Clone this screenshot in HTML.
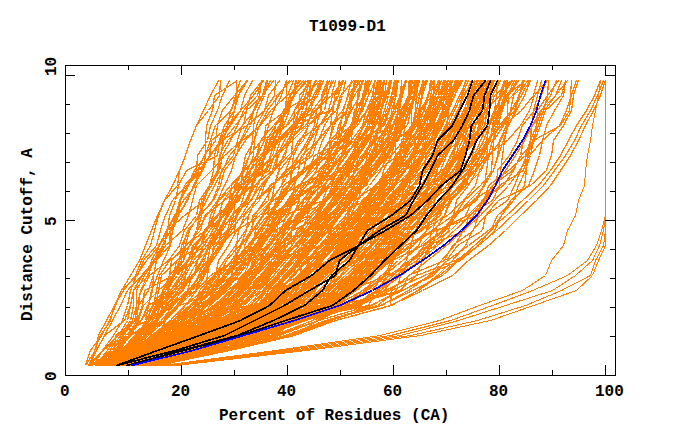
<!DOCTYPE html>
<html><head><meta charset="utf-8"><style>
html,body{margin:0;padding:0;background:#fff;width:680px;height:440px;overflow:hidden}
svg{position:absolute;left:0;top:0}
.t{position:absolute;font:bold 16px "Liberation Mono",monospace;color:#000;white-space:pre;line-height:16px}
</style></head><body>
<svg width="680" height="440" viewBox="0 0 680 440">
<g fill="none" shape-rendering="crispEdges" stroke-width="1">
<g stroke="#ff8000" stroke-width="1.25">
<polyline points="85.5,365.5 95.5,350.5 98.5,335.5 106.5,320.5 114.5,305.5 123.5,290.5 135.5,275.5 141.5,260.5 150.5,245.5 154.5,230.5 158.5,215.5 164.5,200.5 177.5,185.5 179.5,170.5 185.5,155.5 190.5,140.5 196.5,125.5 208.5,110.5 219.5,95.5 220.5,80.5"/>
<polyline points="88.5,365.5 96.5,350.5 104.5,335.5 112.5,320.5 120.5,305.5 127.5,290.5 141.5,275.5 156.5,260.5 169.5,245.5 170.5,230.5 177.5,215.5 180.5,200.5 188.5,185.5 196.5,170.5 197.5,155.5 207.5,140.5 210.5,125.5 217.5,110.5 222.5,95.5 229.5,80.5"/>
<polyline points="85.5,365.5 90.5,350.5 101.5,335.5 109.5,320.5 115.5,305.5 121.5,290.5 130.5,275.5 139.5,260.5 145.5,245.5 151.5,230.5 157.5,215.5 164.5,200.5 172.5,185.5 179.5,170.5 185.5,155.5 190.5,140.5 196.5,125.5 203.5,110.5 210.5,95.5 218.5,80.5"/>
<polyline points="88.5,365.5 127.5,350.5 138.5,335.5 145.5,320.5 148.5,305.5 151.5,290.5 157.5,275.5 163.5,260.5 170.5,245.5 172.5,230.5 178.5,215.5 187.5,200.5 193.5,185.5 201.5,170.5 209.5,155.5 211.5,140.5 230.5,125.5 234.5,110.5 236.5,95.5 236.5,80.5"/>
<polyline points="88.5,365.5 102.5,350.5 118.5,335.5 127.5,320.5 130.5,305.5 133.5,290.5 141.5,275.5 155.5,260.5 158.5,245.5 171.5,230.5 178.5,215.5 180.5,200.5 187.5,185.5 194.5,170.5 205.5,155.5 205.5,140.5 206.5,125.5 212.5,110.5 214.5,95.5 237.5,80.5"/>
<polyline points="89.5,365.5 96.5,350.5 104.5,335.5 124.5,320.5 130.5,305.5 133.5,290.5 142.5,275.5 153.5,260.5 162.5,245.5 170.5,230.5 176.5,215.5 180.5,200.5 184.5,185.5 197.5,170.5 204.5,155.5 215.5,140.5 217.5,125.5 222.5,110.5 234.5,95.5 247.5,80.5"/>
<polyline points="91.5,365.5 114.5,350.5 128.5,335.5 136.5,320.5 138.5,305.5 140.5,290.5 147.5,275.5 154.5,260.5 164.5,245.5 167.5,230.5 169.5,215.5 175.5,200.5 178.5,185.5 186.5,170.5 217.5,155.5 219.5,140.5 224.5,125.5 234.5,110.5 238.5,95.5 247.5,80.5"/>
<polyline points="90.5,365.5 94.5,350.5 100.5,335.5 110.5,320.5 114.5,305.5 121.5,290.5 137.5,275.5 143.5,260.5 156.5,245.5 160.5,230.5 165.5,215.5 172.5,200.5 186.5,185.5 202.5,170.5 205.5,155.5 210.5,140.5 215.5,125.5 231.5,110.5 235.5,95.5 240.5,80.5"/>
<polyline points="90.5,365.5 102.5,350.5 126.5,335.5 141.5,320.5 148.5,305.5 152.5,290.5 153.5,275.5 156.5,260.5 158.5,245.5 167.5,230.5 175.5,215.5 179.5,200.5 187.5,185.5 199.5,170.5 210.5,155.5 220.5,140.5 230.5,125.5 240.5,110.5 244.5,95.5 252.5,80.5"/>
<polyline points="89.5,365.5 114.5,350.5 115.5,335.5 135.5,320.5 136.5,305.5 141.5,290.5 149.5,275.5 168.5,260.5 179.5,245.5 184.5,230.5 196.5,215.5 199.5,200.5 209.5,185.5 213.5,170.5 214.5,155.5 219.5,140.5 227.5,125.5 230.5,110.5 238.5,95.5 246.5,80.5"/>
<polyline points="93.5,365.5 102.5,350.5 113.5,335.5 122.5,320.5 127.5,305.5 130.5,290.5 136.5,275.5 146.5,260.5 159.5,245.5 167.5,230.5 184.5,215.5 204.5,200.5 209.5,185.5 218.5,170.5 220.5,155.5 223.5,140.5 235.5,125.5 246.5,110.5 250.5,95.5 262.5,80.5"/>
<polyline points="95.5,365.5 107.5,350.5 116.5,335.5 147.5,320.5 158.5,305.5 162.5,290.5 173.5,275.5 183.5,260.5 189.5,245.5 196.5,230.5 199.5,215.5 201.5,200.5 211.5,185.5 219.5,170.5 222.5,155.5 230.5,140.5 237.5,125.5 243.5,110.5 257.5,95.5 261.5,80.5"/>
<polyline points="95.5,365.5 115.5,350.5 131.5,335.5 138.5,320.5 143.5,305.5 158.5,290.5 161.5,275.5 177.5,260.5 189.5,245.5 197.5,230.5 201.5,215.5 203.5,200.5 209.5,185.5 217.5,170.5 219.5,155.5 227.5,140.5 243.5,125.5 246.5,110.5 262.5,95.5 266.5,80.5"/>
<polyline points="96.5,365.5 123.5,350.5 141.5,335.5 156.5,320.5 159.5,305.5 163.5,290.5 172.5,275.5 181.5,260.5 183.5,245.5 187.5,230.5 200.5,215.5 212.5,200.5 218.5,185.5 221.5,170.5 233.5,155.5 237.5,140.5 242.5,125.5 254.5,110.5 262.5,95.5 270.5,80.5"/>
<polyline points="96.5,365.5 109.5,350.5 120.5,335.5 130.5,320.5 133.5,305.5 133.5,290.5 148.5,275.5 151.5,260.5 159.5,245.5 166.5,230.5 174.5,215.5 183.5,200.5 195.5,185.5 198.5,170.5 210.5,155.5 221.5,140.5 247.5,125.5 253.5,110.5 259.5,95.5 261.5,80.5"/>
<polyline points="95.5,365.5 110.5,350.5 128.5,335.5 157.5,320.5 165.5,305.5 168.5,290.5 173.5,275.5 197.5,260.5 203.5,245.5 204.5,230.5 218.5,215.5 223.5,200.5 234.5,185.5 242.5,170.5 249.5,155.5 252.5,140.5 253.5,125.5 257.5,110.5 264.5,95.5 267.5,80.5"/>
<polyline points="95.5,365.5 111.5,350.5 122.5,335.5 132.5,320.5 136.5,305.5 136.5,290.5 144.5,275.5 154.5,260.5 162.5,245.5 170.5,230.5 178.5,215.5 186.5,200.5 194.5,185.5 202.5,170.5 209.5,155.5 223.5,140.5 227.5,125.5 240.5,110.5 253.5,95.5 263.5,80.5"/>
<polyline points="96.5,365.5 112.5,350.5 123.5,335.5 134.5,320.5 138.5,305.5 148.5,290.5 153.5,275.5 156.5,260.5 165.5,245.5 182.5,230.5 188.5,215.5 192.5,200.5 196.5,185.5 211.5,170.5 224.5,155.5 241.5,140.5 250.5,125.5 253.5,110.5 262.5,95.5 273.5,80.5"/>
<polyline points="97.5,365.5 113.5,350.5 131.5,335.5 150.5,320.5 156.5,305.5 170.5,290.5 183.5,275.5 191.5,260.5 193.5,245.5 206.5,230.5 213.5,215.5 218.5,200.5 235.5,185.5 257.5,170.5 264.5,155.5 273.5,140.5 280.5,125.5 285.5,110.5 286.5,95.5 286.5,80.5"/>
<polyline points="97.5,365.5 114.5,350.5 126.5,335.5 137.5,320.5 142.5,305.5 144.5,290.5 173.5,275.5 176.5,260.5 200.5,245.5 205.5,230.5 224.5,215.5 234.5,200.5 247.5,185.5 250.5,170.5 256.5,155.5 264.5,140.5 268.5,125.5 273.5,110.5 281.5,95.5 286.5,80.5"/>
<polyline points="99.5,365.5 127.5,350.5 143.5,335.5 146.5,320.5 160.5,305.5 165.5,290.5 173.5,275.5 179.5,260.5 181.5,245.5 188.5,230.5 199.5,215.5 213.5,200.5 220.5,185.5 224.5,170.5 236.5,155.5 240.5,140.5 247.5,125.5 264.5,110.5 268.5,95.5 279.5,80.5"/>
<polyline points="98.5,365.5 128.5,350.5 143.5,335.5 149.5,320.5 155.5,305.5 158.5,290.5 174.5,275.5 179.5,260.5 185.5,245.5 205.5,230.5 216.5,215.5 239.5,200.5 243.5,185.5 247.5,170.5 253.5,155.5 254.5,140.5 256.5,125.5 264.5,110.5 274.5,95.5 275.5,80.5"/>
<polyline points="99.5,365.5 116.5,350.5 128.5,335.5 140.5,320.5 153.5,305.5 156.5,290.5 159.5,275.5 169.5,260.5 190.5,245.5 197.5,230.5 206.5,215.5 217.5,200.5 224.5,185.5 231.5,170.5 235.5,155.5 245.5,140.5 259.5,125.5 274.5,110.5 276.5,95.5 291.5,80.5"/>
<polyline points="99.5,365.5 119.5,350.5 129.5,335.5 141.5,320.5 147.5,305.5 178.5,290.5 194.5,275.5 197.5,260.5 212.5,245.5 220.5,230.5 226.5,215.5 229.5,200.5 231.5,185.5 245.5,170.5 256.5,155.5 260.5,140.5 273.5,125.5 287.5,110.5 293.5,95.5 296.5,80.5"/>
<polyline points="99.5,365.5 123.5,350.5 136.5,335.5 153.5,320.5 156.5,305.5 172.5,290.5 192.5,275.5 210.5,260.5 214.5,245.5 217.5,230.5 235.5,215.5 248.5,200.5 253.5,185.5 255.5,170.5 262.5,155.5 266.5,140.5 275.5,125.5 288.5,110.5 293.5,95.5 295.5,80.5"/>
<polyline points="99.5,365.5 118.5,350.5 130.5,335.5 156.5,320.5 159.5,305.5 168.5,290.5 169.5,275.5 171.5,260.5 185.5,245.5 189.5,230.5 198.5,215.5 206.5,200.5 214.5,185.5 222.5,170.5 229.5,155.5 242.5,140.5 260.5,125.5 270.5,110.5 287.5,95.5 293.5,80.5"/>
<polyline points="99.5,365.5 129.5,350.5 137.5,335.5 164.5,320.5 176.5,305.5 190.5,290.5 198.5,275.5 204.5,260.5 208.5,245.5 227.5,230.5 231.5,215.5 245.5,200.5 252.5,185.5 259.5,170.5 265.5,155.5 274.5,140.5 281.5,125.5 285.5,110.5 289.5,95.5 300.5,80.5"/>
<polyline points="99.5,365.5 119.5,350.5 139.5,335.5 164.5,320.5 178.5,305.5 195.5,290.5 201.5,275.5 211.5,260.5 218.5,245.5 221.5,230.5 227.5,215.5 236.5,200.5 247.5,185.5 254.5,170.5 266.5,155.5 269.5,140.5 279.5,125.5 285.5,110.5 294.5,95.5 298.5,80.5"/>
<polyline points="99.5,365.5 130.5,350.5 140.5,335.5 146.5,320.5 152.5,305.5 163.5,290.5 169.5,275.5 183.5,260.5 185.5,245.5 200.5,230.5 204.5,215.5 224.5,200.5 241.5,185.5 242.5,170.5 245.5,155.5 254.5,140.5 259.5,125.5 267.5,110.5 278.5,95.5 289.5,80.5"/>
<polyline points="100.5,365.5 120.5,350.5 137.5,335.5 146.5,320.5 153.5,305.5 168.5,290.5 174.5,275.5 188.5,260.5 192.5,245.5 207.5,230.5 210.5,215.5 218.5,200.5 230.5,185.5 244.5,170.5 249.5,155.5 261.5,140.5 287.5,125.5 298.5,110.5 299.5,95.5 311.5,80.5"/>
<polyline points="101.5,365.5 131.5,350.5 143.5,335.5 157.5,320.5 164.5,305.5 167.5,290.5 173.5,275.5 187.5,260.5 195.5,245.5 204.5,230.5 216.5,215.5 234.5,200.5 241.5,185.5 250.5,170.5 262.5,155.5 277.5,140.5 283.5,125.5 289.5,110.5 290.5,95.5 303.5,80.5"/>
<polyline points="101.5,365.5 121.5,350.5 134.5,335.5 148.5,320.5 155.5,305.5 165.5,290.5 177.5,275.5 188.5,260.5 200.5,245.5 216.5,230.5 222.5,215.5 232.5,200.5 240.5,185.5 259.5,170.5 265.5,155.5 278.5,140.5 293.5,125.5 294.5,110.5 302.5,95.5 308.5,80.5"/>
<polyline points="101.5,365.5 121.5,350.5 134.5,335.5 148.5,320.5 156.5,305.5 183.5,290.5 185.5,275.5 186.5,260.5 204.5,245.5 212.5,230.5 222.5,215.5 231.5,200.5 243.5,185.5 258.5,170.5 272.5,155.5 277.5,140.5 291.5,125.5 310.5,110.5 315.5,95.5 321.5,80.5"/>
<polyline points="101.5,365.5 122.5,350.5 135.5,335.5 149.5,320.5 172.5,305.5 190.5,290.5 204.5,275.5 211.5,260.5 213.5,245.5 229.5,230.5 233.5,215.5 235.5,200.5 251.5,185.5 255.5,170.5 257.5,155.5 264.5,140.5 265.5,125.5 286.5,110.5 294.5,95.5 305.5,80.5"/>
<polyline points="101.5,365.5 122.5,350.5 136.5,335.5 150.5,320.5 158.5,305.5 170.5,290.5 180.5,275.5 187.5,260.5 196.5,245.5 206.5,230.5 218.5,215.5 231.5,200.5 235.5,185.5 243.5,170.5 260.5,155.5 272.5,140.5 275.5,125.5 283.5,110.5 293.5,95.5 307.5,80.5"/>
<polyline points="101.5,365.5 132.5,350.5 152.5,335.5 170.5,320.5 184.5,305.5 203.5,290.5 215.5,275.5 218.5,260.5 228.5,245.5 236.5,230.5 248.5,215.5 255.5,200.5 274.5,185.5 278.5,170.5 283.5,155.5 290.5,140.5 292.5,125.5 305.5,110.5 310.5,95.5 315.5,80.5"/>
<polyline points="101.5,365.5 123.5,350.5 137.5,335.5 152.5,320.5 161.5,305.5 173.5,290.5 182.5,275.5 191.5,260.5 200.5,245.5 209.5,230.5 222.5,215.5 236.5,200.5 245.5,185.5 264.5,170.5 275.5,155.5 280.5,140.5 297.5,125.5 302.5,110.5 305.5,95.5 309.5,80.5"/>
<polyline points="102.5,365.5 124.5,350.5 138.5,335.5 154.5,320.5 167.5,305.5 196.5,290.5 204.5,275.5 207.5,260.5 210.5,245.5 215.5,230.5 222.5,215.5 229.5,200.5 237.5,185.5 249.5,170.5 263.5,155.5 267.5,140.5 282.5,125.5 284.5,110.5 309.5,95.5 310.5,80.5"/>
<polyline points="101.5,365.5 124.5,350.5 145.5,335.5 158.5,320.5 162.5,305.5 175.5,290.5 185.5,275.5 193.5,260.5 207.5,245.5 215.5,230.5 220.5,215.5 229.5,200.5 238.5,185.5 269.5,170.5 274.5,155.5 289.5,140.5 302.5,125.5 308.5,110.5 313.5,95.5 320.5,80.5"/>
<polyline points="101.5,365.5 126.5,350.5 139.5,335.5 154.5,320.5 170.5,305.5 177.5,290.5 191.5,275.5 208.5,260.5 220.5,245.5 234.5,230.5 236.5,215.5 242.5,200.5 247.5,185.5 262.5,170.5 264.5,155.5 270.5,140.5 286.5,125.5 294.5,110.5 308.5,95.5 315.5,80.5"/>
<polyline points="103.5,365.5 124.5,350.5 139.5,335.5 155.5,320.5 165.5,305.5 178.5,290.5 189.5,275.5 197.5,260.5 206.5,245.5 228.5,230.5 243.5,215.5 255.5,200.5 262.5,185.5 274.5,170.5 288.5,155.5 303.5,140.5 308.5,125.5 321.5,110.5 321.5,95.5 327.5,80.5"/>
<polyline points="103.5,365.5 125.5,350.5 140.5,335.5 156.5,320.5 166.5,305.5 180.5,290.5 194.5,275.5 202.5,260.5 208.5,245.5 218.5,230.5 226.5,215.5 235.5,200.5 252.5,185.5 257.5,170.5 276.5,155.5 284.5,140.5 293.5,125.5 299.5,110.5 305.5,95.5 319.5,80.5"/>
<polyline points="103.5,365.5 133.5,350.5 157.5,335.5 165.5,320.5 170.5,305.5 182.5,290.5 192.5,275.5 201.5,260.5 210.5,245.5 219.5,230.5 228.5,215.5 237.5,200.5 246.5,185.5 261.5,170.5 264.5,155.5 280.5,140.5 292.5,125.5 315.5,110.5 331.5,95.5 335.5,80.5"/>
<polyline points="104.5,365.5 126.5,350.5 141.5,335.5 157.5,320.5 170.5,305.5 187.5,290.5 192.5,275.5 201.5,260.5 210.5,245.5 222.5,230.5 231.5,215.5 251.5,200.5 257.5,185.5 265.5,170.5 270.5,155.5 275.5,140.5 301.5,125.5 306.5,110.5 307.5,95.5 316.5,80.5"/>
<polyline points="104.5,365.5 136.5,350.5 158.5,335.5 178.5,320.5 195.5,305.5 213.5,290.5 226.5,275.5 237.5,260.5 248.5,245.5 258.5,230.5 269.5,215.5 279.5,200.5 289.5,185.5 291.5,170.5 293.5,155.5 300.5,140.5 308.5,125.5 324.5,110.5 327.5,95.5 331.5,80.5"/>
<polyline points="104.5,365.5 137.5,350.5 158.5,335.5 178.5,320.5 190.5,305.5 203.5,290.5 207.5,275.5 209.5,260.5 215.5,245.5 236.5,230.5 260.5,215.5 271.5,200.5 274.5,185.5 279.5,170.5 291.5,155.5 292.5,140.5 296.5,125.5 298.5,110.5 315.5,95.5 323.5,80.5"/>
<polyline points="104.5,365.5 137.5,350.5 153.5,335.5 173.5,320.5 185.5,305.5 196.5,290.5 210.5,275.5 234.5,260.5 236.5,245.5 238.5,230.5 244.5,215.5 259.5,200.5 264.5,185.5 272.5,170.5 285.5,155.5 287.5,140.5 305.5,125.5 315.5,110.5 326.5,95.5 327.5,80.5"/>
<polyline points="103.5,365.5 133.5,350.5 145.5,335.5 161.5,320.5 173.5,305.5 188.5,290.5 199.5,275.5 209.5,260.5 221.5,245.5 229.5,230.5 236.5,215.5 245.5,200.5 254.5,185.5 272.5,170.5 277.5,155.5 292.5,140.5 307.5,125.5 312.5,110.5 323.5,95.5 329.5,80.5"/>
<polyline points="104.5,365.5 132.5,350.5 144.5,335.5 161.5,320.5 177.5,305.5 189.5,290.5 200.5,275.5 209.5,260.5 219.5,245.5 228.5,230.5 237.5,215.5 246.5,200.5 255.5,185.5 266.5,170.5 274.5,155.5 290.5,140.5 294.5,125.5 330.5,110.5 338.5,95.5 343.5,80.5"/>
<polyline points="105.5,365.5 128.5,350.5 161.5,335.5 173.5,320.5 198.5,305.5 208.5,290.5 215.5,275.5 234.5,260.5 240.5,245.5 246.5,230.5 248.5,215.5 255.5,200.5 271.5,185.5 288.5,170.5 298.5,155.5 307.5,140.5 314.5,125.5 316.5,110.5 326.5,95.5 333.5,80.5"/>
<polyline points="105.5,365.5 129.5,350.5 146.5,335.5 163.5,320.5 176.5,305.5 192.5,290.5 203.5,275.5 212.5,260.5 222.5,245.5 231.5,230.5 241.5,215.5 250.5,200.5 260.5,185.5 274.5,170.5 278.5,155.5 287.5,140.5 296.5,125.5 306.5,110.5 317.5,95.5 323.5,80.5"/>
<polyline points="105.5,365.5 139.5,350.5 162.5,335.5 183.5,320.5 201.5,305.5 220.5,290.5 233.5,275.5 245.5,260.5 256.5,245.5 267.5,230.5 277.5,215.5 288.5,200.5 299.5,185.5 309.5,170.5 319.5,155.5 329.5,140.5 334.5,125.5 337.5,110.5 342.5,95.5 345.5,80.5"/>
<polyline points="105.5,365.5 129.5,350.5 152.5,335.5 184.5,320.5 195.5,305.5 211.5,290.5 232.5,275.5 246.5,260.5 255.5,245.5 266.5,230.5 270.5,215.5 277.5,200.5 283.5,185.5 303.5,170.5 306.5,155.5 318.5,140.5 324.5,125.5 333.5,110.5 334.5,95.5 342.5,80.5"/>
<polyline points="105.5,365.5 130.5,350.5 148.5,335.5 165.5,320.5 179.5,305.5 220.5,290.5 222.5,275.5 243.5,260.5 244.5,245.5 252.5,230.5 252.5,215.5 268.5,200.5 269.5,185.5 293.5,170.5 298.5,155.5 310.5,140.5 319.5,125.5 330.5,110.5 338.5,95.5 338.5,80.5"/>
<polyline points="104.5,365.5 140.5,350.5 163.5,335.5 182.5,320.5 194.5,305.5 205.5,290.5 224.5,275.5 240.5,260.5 252.5,245.5 255.5,230.5 267.5,215.5 270.5,200.5 281.5,185.5 285.5,170.5 291.5,155.5 298.5,140.5 319.5,125.5 328.5,110.5 332.5,95.5 342.5,80.5"/>
<polyline points="106.5,365.5 141.5,350.5 150.5,335.5 183.5,320.5 206.5,305.5 224.5,290.5 238.5,275.5 250.5,260.5 261.5,245.5 272.5,230.5 283.5,215.5 294.5,200.5 306.5,185.5 316.5,170.5 317.5,155.5 322.5,140.5 330.5,125.5 332.5,110.5 336.5,95.5 339.5,80.5"/>
<polyline points="105.5,365.5 141.5,350.5 165.5,335.5 187.5,320.5 206.5,305.5 225.5,290.5 238.5,275.5 250.5,260.5 262.5,245.5 273.5,230.5 283.5,215.5 295.5,200.5 306.5,185.5 316.5,170.5 321.5,155.5 329.5,140.5 332.5,125.5 346.5,110.5 352.5,95.5 354.5,80.5"/>
<polyline points="106.5,365.5 131.5,350.5 154.5,335.5 178.5,320.5 195.5,305.5 199.5,290.5 213.5,275.5 234.5,260.5 241.5,245.5 250.5,230.5 256.5,215.5 271.5,200.5 281.5,185.5 290.5,170.5 303.5,155.5 309.5,140.5 316.5,125.5 320.5,110.5 322.5,95.5 329.5,80.5"/>
<polyline points="106.5,365.5 141.5,350.5 166.5,335.5 188.5,320.5 196.5,305.5 226.5,290.5 231.5,275.5 234.5,260.5 247.5,245.5 266.5,230.5 270.5,215.5 291.5,200.5 294.5,185.5 298.5,170.5 301.5,155.5 318.5,140.5 330.5,125.5 347.5,110.5 351.5,95.5 356.5,80.5"/>
<polyline points="106.5,365.5 132.5,350.5 151.5,335.5 170.5,320.5 185.5,305.5 202.5,290.5 214.5,275.5 224.5,260.5 235.5,245.5 245.5,230.5 254.5,215.5 264.5,200.5 273.5,185.5 285.5,170.5 309.5,155.5 314.5,140.5 319.5,125.5 336.5,110.5 340.5,95.5 353.5,80.5"/>
<polyline points="108.5,365.5 133.5,350.5 152.5,335.5 190.5,320.5 195.5,305.5 210.5,290.5 219.5,275.5 226.5,260.5 239.5,245.5 253.5,230.5 263.5,215.5 281.5,200.5 289.5,185.5 292.5,170.5 312.5,155.5 317.5,140.5 330.5,125.5 342.5,110.5 348.5,95.5 357.5,80.5"/>
<polyline points="108.5,365.5 133.5,350.5 153.5,335.5 172.5,320.5 189.5,305.5 205.5,290.5 217.5,275.5 242.5,260.5 255.5,245.5 262.5,230.5 273.5,215.5 275.5,200.5 287.5,185.5 301.5,170.5 322.5,155.5 337.5,140.5 344.5,125.5 346.5,110.5 350.5,95.5 360.5,80.5"/>
<polyline points="108.5,365.5 143.5,350.5 169.5,335.5 192.5,320.5 213.5,305.5 231.5,290.5 244.5,275.5 257.5,260.5 268.5,245.5 280.5,230.5 291.5,215.5 303.5,200.5 314.5,185.5 325.5,170.5 335.5,155.5 346.5,140.5 354.5,125.5 360.5,110.5 365.5,95.5 368.5,80.5"/>
<polyline points="108.5,365.5 144.5,350.5 169.5,335.5 192.5,320.5 214.5,305.5 232.5,290.5 246.5,275.5 258.5,260.5 270.5,245.5 280.5,230.5 286.5,215.5 294.5,200.5 306.5,185.5 325.5,170.5 329.5,155.5 337.5,140.5 340.5,125.5 343.5,110.5 347.5,95.5 351.5,80.5"/>
<polyline points="108.5,365.5 134.5,350.5 154.5,335.5 174.5,320.5 190.5,305.5 207.5,290.5 220.5,275.5 231.5,260.5 241.5,245.5 252.5,230.5 262.5,215.5 272.5,200.5 298.5,185.5 313.5,170.5 326.5,155.5 340.5,140.5 350.5,125.5 358.5,110.5 363.5,95.5 365.5,80.5"/>
<polyline points="108.5,365.5 144.5,350.5 160.5,335.5 187.5,320.5 214.5,305.5 230.5,290.5 243.5,275.5 250.5,260.5 269.5,245.5 282.5,230.5 291.5,215.5 306.5,200.5 317.5,185.5 323.5,170.5 328.5,155.5 330.5,140.5 345.5,125.5 350.5,110.5 352.5,95.5 358.5,80.5"/>
<polyline points="108.5,365.5 135.5,350.5 156.5,335.5 176.5,320.5 192.5,305.5 210.5,290.5 223.5,275.5 234.5,260.5 256.5,245.5 271.5,230.5 273.5,215.5 277.5,200.5 287.5,185.5 305.5,170.5 330.5,155.5 347.5,140.5 351.5,125.5 362.5,110.5 368.5,95.5 368.5,80.5"/>
<polyline points="109.5,365.5 145.5,350.5 171.5,335.5 195.5,320.5 210.5,305.5 213.5,290.5 223.5,275.5 249.5,260.5 257.5,245.5 262.5,230.5 273.5,215.5 293.5,200.5 317.5,185.5 328.5,170.5 328.5,155.5 335.5,140.5 338.5,125.5 346.5,110.5 354.5,95.5 363.5,80.5"/>
<polyline points="109.5,365.5 136.5,350.5 157.5,335.5 179.5,320.5 194.5,305.5 213.5,290.5 225.5,275.5 236.5,260.5 247.5,245.5 260.5,230.5 268.5,215.5 278.5,200.5 288.5,185.5 306.5,170.5 319.5,155.5 330.5,140.5 343.5,125.5 349.5,110.5 352.5,95.5 355.5,80.5"/>
<polyline points="108.5,365.5 136.5,350.5 166.5,335.5 197.5,320.5 203.5,305.5 223.5,290.5 233.5,275.5 245.5,260.5 261.5,245.5 271.5,230.5 288.5,215.5 293.5,200.5 314.5,185.5 319.5,170.5 332.5,155.5 351.5,140.5 362.5,125.5 366.5,110.5 372.5,95.5 374.5,80.5"/>
<polyline points="109.5,365.5 136.5,350.5 158.5,335.5 179.5,320.5 196.5,305.5 214.5,290.5 227.5,275.5 239.5,260.5 250.5,245.5 260.5,230.5 270.5,215.5 281.5,200.5 292.5,185.5 302.5,170.5 326.5,155.5 332.5,140.5 351.5,125.5 354.5,110.5 365.5,95.5 371.5,80.5"/>
<polyline points="110.5,365.5 137.5,350.5 174.5,335.5 198.5,320.5 204.5,305.5 214.5,290.5 244.5,275.5 255.5,260.5 266.5,245.5 275.5,230.5 300.5,215.5 309.5,200.5 312.5,185.5 330.5,170.5 342.5,155.5 351.5,140.5 352.5,125.5 361.5,110.5 364.5,95.5 365.5,80.5"/>
<polyline points="109.5,365.5 147.5,350.5 175.5,335.5 199.5,320.5 222.5,305.5 240.5,290.5 253.5,275.5 264.5,260.5 278.5,245.5 285.5,230.5 292.5,215.5 299.5,200.5 300.5,185.5 308.5,170.5 314.5,155.5 344.5,140.5 352.5,125.5 361.5,110.5 362.5,95.5 367.5,80.5"/>
<polyline points="110.5,365.5 144.5,350.5 160.5,335.5 200.5,320.5 224.5,305.5 231.5,290.5 246.5,275.5 267.5,260.5 279.5,245.5 291.5,230.5 297.5,215.5 313.5,200.5 324.5,185.5 335.5,170.5 342.5,155.5 347.5,140.5 353.5,125.5 356.5,110.5 357.5,95.5 362.5,80.5"/>
<polyline points="111.5,365.5 138.5,350.5 161.5,335.5 182.5,320.5 207.5,305.5 218.5,290.5 232.5,275.5 243.5,260.5 268.5,245.5 277.5,230.5 278.5,215.5 295.5,200.5 312.5,185.5 325.5,170.5 343.5,155.5 348.5,140.5 354.5,125.5 356.5,110.5 358.5,95.5 363.5,80.5"/>
<polyline points="110.5,365.5 148.5,350.5 164.5,335.5 182.5,320.5 200.5,305.5 219.5,290.5 232.5,275.5 243.5,260.5 254.5,245.5 265.5,230.5 276.5,215.5 287.5,200.5 297.5,185.5 331.5,170.5 334.5,155.5 341.5,140.5 357.5,125.5 366.5,110.5 375.5,95.5 378.5,80.5"/>
<polyline points="110.5,365.5 139.5,350.5 162.5,335.5 183.5,320.5 202.5,305.5 220.5,290.5 233.5,275.5 245.5,260.5 258.5,245.5 267.5,230.5 283.5,215.5 291.5,200.5 299.5,185.5 310.5,170.5 322.5,155.5 339.5,140.5 344.5,125.5 351.5,110.5 359.5,95.5 359.5,80.5"/>
<polyline points="111.5,365.5 139.5,350.5 167.5,335.5 184.5,320.5 202.5,305.5 221.5,290.5 234.5,275.5 246.5,260.5 257.5,245.5 268.5,230.5 278.5,215.5 289.5,200.5 313.5,185.5 321.5,170.5 334.5,155.5 339.5,140.5 354.5,125.5 367.5,110.5 380.5,95.5 383.5,80.5"/>
<polyline points="110.5,365.5 145.5,350.5 163.5,335.5 204.5,320.5 220.5,305.5 234.5,290.5 247.5,275.5 254.5,260.5 262.5,245.5 272.5,230.5 280.5,215.5 298.5,200.5 302.5,185.5 318.5,170.5 331.5,155.5 342.5,140.5 352.5,125.5 355.5,110.5 363.5,95.5 367.5,80.5"/>
<polyline points="111.5,365.5 140.5,350.5 164.5,335.5 191.5,320.5 205.5,305.5 223.5,290.5 236.5,275.5 248.5,260.5 259.5,245.5 270.5,230.5 281.5,215.5 292.5,200.5 303.5,185.5 344.5,170.5 353.5,155.5 358.5,140.5 369.5,125.5 373.5,110.5 382.5,95.5 384.5,80.5"/>
<polyline points="112.5,365.5 150.5,350.5 179.5,335.5 205.5,320.5 229.5,305.5 240.5,290.5 248.5,275.5 252.5,260.5 260.5,245.5 273.5,230.5 309.5,215.5 322.5,200.5 328.5,185.5 337.5,170.5 341.5,155.5 344.5,140.5 352.5,125.5 358.5,110.5 363.5,95.5 369.5,80.5"/>
<polyline points="111.5,365.5 141.5,350.5 165.5,335.5 187.5,320.5 207.5,305.5 225.5,290.5 238.5,275.5 250.5,260.5 262.5,245.5 272.5,230.5 283.5,215.5 323.5,200.5 335.5,185.5 346.5,170.5 357.5,155.5 366.5,140.5 374.5,125.5 380.5,110.5 384.5,95.5 386.5,80.5"/>
<polyline points="112.5,365.5 141.5,350.5 180.5,335.5 200.5,320.5 209.5,305.5 227.5,290.5 246.5,275.5 257.5,260.5 283.5,245.5 291.5,230.5 298.5,215.5 316.5,200.5 318.5,185.5 330.5,170.5 341.5,155.5 360.5,140.5 367.5,125.5 377.5,110.5 380.5,95.5 383.5,80.5"/>
<polyline points="112.5,365.5 151.5,350.5 181.5,335.5 207.5,320.5 232.5,305.5 249.5,290.5 262.5,275.5 275.5,260.5 279.5,245.5 284.5,230.5 312.5,215.5 325.5,200.5 332.5,185.5 342.5,170.5 355.5,155.5 364.5,140.5 369.5,125.5 372.5,110.5 373.5,95.5 374.5,80.5"/>
<polyline points="111.5,365.5 152.5,350.5 181.5,335.5 208.5,320.5 223.5,305.5 232.5,290.5 241.5,275.5 263.5,260.5 276.5,245.5 283.5,230.5 297.5,215.5 314.5,200.5 331.5,185.5 337.5,170.5 357.5,155.5 362.5,140.5 367.5,125.5 380.5,110.5 387.5,95.5 390.5,80.5"/>
<polyline points="112.5,365.5 142.5,350.5 183.5,335.5 209.5,320.5 231.5,305.5 244.5,290.5 256.5,275.5 260.5,260.5 268.5,245.5 283.5,230.5 299.5,215.5 303.5,200.5 322.5,185.5 340.5,170.5 352.5,155.5 365.5,140.5 367.5,125.5 371.5,110.5 379.5,95.5 381.5,80.5"/>
<polyline points="113.5,365.5 143.5,350.5 168.5,335.5 210.5,320.5 235.5,305.5 252.5,290.5 265.5,275.5 278.5,260.5 291.5,245.5 303.5,230.5 315.5,215.5 324.5,200.5 340.5,185.5 351.5,170.5 362.5,155.5 372.5,140.5 379.5,125.5 384.5,110.5 388.5,95.5 391.5,80.5"/>
<polyline points="113.5,365.5 143.5,350.5 169.5,335.5 192.5,320.5 213.5,305.5 231.5,290.5 244.5,275.5 268.5,260.5 275.5,245.5 279.5,230.5 291.5,215.5 302.5,200.5 314.5,185.5 325.5,170.5 335.5,155.5 345.5,140.5 355.5,125.5 361.5,110.5 368.5,95.5 375.5,80.5"/>
<polyline points="113.5,365.5 143.5,350.5 169.5,335.5 192.5,320.5 216.5,305.5 232.5,290.5 245.5,275.5 257.5,260.5 287.5,245.5 291.5,230.5 301.5,215.5 327.5,200.5 341.5,185.5 349.5,170.5 351.5,155.5 357.5,140.5 371.5,125.5 374.5,110.5 382.5,95.5 383.5,80.5"/>
<polyline points="113.5,365.5 154.5,350.5 185.5,335.5 212.5,320.5 217.5,305.5 248.5,290.5 260.5,275.5 277.5,260.5 287.5,245.5 306.5,230.5 316.5,215.5 326.5,200.5 337.5,185.5 346.5,170.5 352.5,155.5 363.5,140.5 382.5,125.5 388.5,110.5 392.5,95.5 395.5,80.5"/>
<polyline points="114.5,365.5 146.5,350.5 185.5,335.5 212.5,320.5 239.5,305.5 248.5,290.5 268.5,275.5 281.5,260.5 291.5,245.5 291.5,230.5 295.5,215.5 315.5,200.5 325.5,185.5 329.5,170.5 338.5,155.5 354.5,140.5 364.5,125.5 370.5,110.5 375.5,95.5 379.5,80.5"/>
<polyline points="114.5,365.5 144.5,350.5 186.5,335.5 213.5,320.5 239.5,305.5 255.5,290.5 269.5,275.5 282.5,260.5 294.5,245.5 307.5,230.5 320.5,215.5 332.5,200.5 344.5,185.5 355.5,170.5 366.5,155.5 370.5,140.5 374.5,125.5 374.5,110.5 375.5,95.5 381.5,80.5"/>
<polyline points="114.5,365.5 145.5,350.5 172.5,335.5 196.5,320.5 218.5,305.5 235.5,290.5 249.5,275.5 261.5,260.5 273.5,245.5 285.5,230.5 297.5,215.5 308.5,200.5 320.5,185.5 331.5,170.5 342.5,155.5 359.5,140.5 384.5,125.5 389.5,110.5 394.5,95.5 398.5,80.5"/>
<polyline points="114.5,365.5 155.5,350.5 182.5,335.5 196.5,320.5 241.5,305.5 257.5,290.5 270.5,275.5 279.5,260.5 296.5,245.5 309.5,230.5 322.5,215.5 334.5,200.5 346.5,185.5 350.5,170.5 357.5,155.5 365.5,140.5 375.5,125.5 389.5,110.5 391.5,95.5 394.5,80.5"/>
<polyline points="115.5,365.5 146.5,350.5 173.5,335.5 211.5,320.5 223.5,305.5 237.5,290.5 251.5,275.5 263.5,260.5 298.5,245.5 311.5,230.5 322.5,215.5 331.5,200.5 339.5,185.5 347.5,170.5 356.5,155.5 358.5,140.5 372.5,125.5 378.5,110.5 381.5,95.5 384.5,80.5"/>
<polyline points="116.5,365.5 146.5,350.5 174.5,335.5 198.5,320.5 221.5,305.5 238.5,290.5 252.5,275.5 266.5,260.5 276.5,245.5 288.5,230.5 300.5,215.5 316.5,200.5 323.5,185.5 335.5,170.5 345.5,155.5 357.5,140.5 363.5,125.5 376.5,110.5 378.5,95.5 381.5,80.5"/>
<polyline points="115.5,365.5 156.5,350.5 185.5,335.5 198.5,320.5 232.5,305.5 240.5,290.5 263.5,275.5 277.5,260.5 278.5,245.5 302.5,230.5 307.5,215.5 312.5,200.5 324.5,185.5 335.5,170.5 346.5,155.5 355.5,140.5 363.5,125.5 369.5,110.5 374.5,95.5 377.5,80.5"/>
<polyline points="116.5,365.5 147.5,350.5 183.5,335.5 203.5,320.5 224.5,305.5 244.5,290.5 269.5,275.5 277.5,260.5 282.5,245.5 313.5,230.5 325.5,215.5 338.5,200.5 350.5,185.5 354.5,170.5 361.5,155.5 376.5,140.5 378.5,125.5 381.5,110.5 383.5,95.5 383.5,80.5"/>
<polyline points="115.5,365.5 148.5,350.5 176.5,335.5 200.5,320.5 224.5,305.5 241.5,290.5 254.5,275.5 267.5,260.5 279.5,245.5 291.5,230.5 303.5,215.5 315.5,200.5 327.5,185.5 354.5,170.5 358.5,155.5 368.5,140.5 372.5,125.5 377.5,110.5 386.5,95.5 390.5,80.5"/>
<polyline points="115.5,365.5 148.5,350.5 176.5,335.5 201.5,320.5 224.5,305.5 241.5,290.5 255.5,275.5 271.5,260.5 280.5,245.5 292.5,230.5 321.5,215.5 335.5,200.5 345.5,185.5 355.5,170.5 364.5,155.5 372.5,140.5 380.5,125.5 397.5,110.5 402.5,95.5 405.5,80.5"/>
<polyline points="116.5,365.5 148.5,350.5 176.5,335.5 211.5,320.5 225.5,305.5 242.5,290.5 255.5,275.5 267.5,260.5 280.5,245.5 292.5,230.5 304.5,215.5 316.5,200.5 328.5,185.5 339.5,170.5 350.5,155.5 359.5,140.5 367.5,125.5 373.5,110.5 377.5,95.5 380.5,80.5"/>
<polyline points="117.5,365.5 149.5,350.5 180.5,335.5 220.5,320.5 249.5,305.5 264.5,290.5 277.5,275.5 291.5,260.5 304.5,245.5 317.5,230.5 329.5,215.5 342.5,200.5 354.5,185.5 365.5,170.5 375.5,155.5 385.5,140.5 392.5,125.5 398.5,110.5 399.5,95.5 405.5,80.5"/>
<polyline points="115.5,365.5 159.5,350.5 192.5,335.5 212.5,320.5 226.5,305.5 243.5,290.5 260.5,275.5 272.5,260.5 283.5,245.5 305.5,230.5 330.5,215.5 342.5,200.5 354.5,185.5 362.5,170.5 374.5,155.5 380.5,140.5 393.5,125.5 399.5,110.5 401.5,95.5 401.5,80.5"/>
<polyline points="115.5,365.5 149.5,350.5 193.5,335.5 221.5,320.5 250.5,305.5 265.5,290.5 279.5,275.5 292.5,260.5 305.5,245.5 318.5,230.5 331.5,215.5 343.5,200.5 355.5,185.5 366.5,170.5 377.5,155.5 386.5,140.5 390.5,125.5 391.5,110.5 396.5,95.5 397.5,80.5"/>
<polyline points="117.5,365.5 150.5,350.5 179.5,335.5 204.5,320.5 244.5,305.5 255.5,290.5 274.5,275.5 278.5,260.5 292.5,245.5 296.5,230.5 318.5,215.5 326.5,200.5 334.5,185.5 344.5,170.5 354.5,155.5 365.5,140.5 392.5,125.5 398.5,110.5 401.5,95.5 406.5,80.5"/>
<polyline points="117.5,365.5 160.5,350.5 195.5,335.5 218.5,320.5 253.5,305.5 267.5,290.5 281.5,275.5 294.5,260.5 308.5,245.5 321.5,230.5 333.5,215.5 345.5,200.5 357.5,185.5 368.5,170.5 369.5,155.5 378.5,140.5 386.5,125.5 393.5,110.5 395.5,95.5 397.5,80.5"/>
<polyline points="117.5,365.5 151.5,350.5 180.5,335.5 206.5,320.5 235.5,305.5 247.5,290.5 267.5,275.5 277.5,260.5 309.5,245.5 321.5,230.5 334.5,215.5 346.5,200.5 358.5,185.5 369.5,170.5 380.5,155.5 389.5,140.5 397.5,125.5 403.5,110.5 408.5,95.5 412.5,80.5"/>
<polyline points="118.5,365.5 155.5,350.5 195.5,335.5 217.5,320.5 232.5,305.5 248.5,290.5 261.5,275.5 274.5,260.5 287.5,245.5 299.5,230.5 312.5,215.5 324.5,200.5 336.5,185.5 347.5,170.5 357.5,155.5 367.5,140.5 375.5,125.5 380.5,110.5 385.5,95.5 390.5,80.5"/>
<polyline points="118.5,365.5 151.5,350.5 188.5,335.5 207.5,320.5 232.5,305.5 248.5,290.5 262.5,275.5 275.5,260.5 287.5,245.5 300.5,230.5 312.5,215.5 324.5,200.5 336.5,185.5 348.5,170.5 358.5,155.5 368.5,140.5 375.5,125.5 381.5,110.5 386.5,95.5 389.5,80.5"/>
<polyline points="118.5,365.5 162.5,350.5 197.5,335.5 226.5,320.5 256.5,305.5 271.5,290.5 284.5,275.5 298.5,260.5 310.5,245.5 321.5,230.5 328.5,215.5 349.5,200.5 361.5,185.5 372.5,170.5 380.5,155.5 392.5,140.5 400.5,125.5 406.5,110.5 408.5,95.5 409.5,80.5"/>
<polyline points="118.5,365.5 152.5,350.5 182.5,335.5 208.5,320.5 234.5,305.5 250.5,290.5 264.5,275.5 278.5,260.5 312.5,245.5 322.5,230.5 337.5,215.5 349.5,200.5 361.5,185.5 368.5,170.5 372.5,155.5 375.5,140.5 391.5,125.5 406.5,110.5 410.5,95.5 415.5,80.5"/>
<polyline points="118.5,365.5 153.5,350.5 190.5,335.5 228.5,320.5 258.5,305.5 272.5,290.5 286.5,275.5 300.5,260.5 313.5,245.5 317.5,230.5 335.5,215.5 341.5,200.5 360.5,185.5 365.5,170.5 376.5,155.5 382.5,140.5 388.5,125.5 393.5,110.5 400.5,95.5 401.5,80.5"/>
<polyline points="118.5,365.5 163.5,350.5 199.5,335.5 224.5,320.5 236.5,305.5 263.5,290.5 281.5,275.5 290.5,260.5 314.5,245.5 327.5,230.5 339.5,215.5 351.5,200.5 363.5,185.5 366.5,170.5 372.5,155.5 378.5,140.5 388.5,125.5 393.5,110.5 395.5,95.5 397.5,80.5"/>
<polyline points="120.5,365.5 157.5,350.5 199.5,335.5 229.5,320.5 260.5,305.5 268.5,290.5 287.5,275.5 296.5,260.5 310.5,245.5 320.5,230.5 326.5,215.5 330.5,200.5 346.5,185.5 355.5,170.5 363.5,155.5 373.5,140.5 380.5,125.5 386.5,110.5 391.5,95.5 398.5,80.5"/>
<polyline points="119.5,365.5 158.5,350.5 200.5,335.5 230.5,320.5 261.5,305.5 273.5,290.5 289.5,275.5 302.5,260.5 311.5,245.5 315.5,230.5 324.5,215.5 331.5,200.5 343.5,185.5 356.5,170.5 377.5,155.5 383.5,140.5 400.5,125.5 401.5,110.5 408.5,95.5 408.5,80.5"/>
<polyline points="120.5,365.5 163.5,350.5 189.5,335.5 212.5,320.5 239.5,305.5 254.5,290.5 268.5,275.5 281.5,260.5 294.5,245.5 307.5,230.5 319.5,215.5 331.5,200.5 352.5,185.5 363.5,170.5 367.5,155.5 374.5,140.5 382.5,125.5 389.5,110.5 393.5,95.5 396.5,80.5"/>
<polyline points="119.5,365.5 164.5,350.5 186.5,335.5 213.5,320.5 240.5,305.5 255.5,290.5 269.5,275.5 282.5,260.5 295.5,245.5 308.5,230.5 320.5,215.5 341.5,200.5 349.5,185.5 366.5,170.5 387.5,155.5 393.5,140.5 403.5,125.5 410.5,110.5 414.5,95.5 416.5,80.5"/>
<polyline points="120.5,365.5 155.5,350.5 187.5,335.5 214.5,320.5 254.5,305.5 264.5,290.5 270.5,275.5 283.5,260.5 306.5,245.5 320.5,230.5 326.5,215.5 352.5,200.5 357.5,185.5 370.5,170.5 388.5,155.5 396.5,140.5 397.5,125.5 400.5,110.5 409.5,95.5 411.5,80.5"/>
<polyline points="119.5,365.5 155.5,350.5 202.5,335.5 233.5,320.5 258.5,305.5 265.5,290.5 278.5,275.5 289.5,260.5 302.5,245.5 331.5,230.5 335.5,215.5 346.5,200.5 364.5,185.5 370.5,170.5 388.5,155.5 391.5,140.5 398.5,125.5 405.5,110.5 409.5,95.5 412.5,80.5"/>
<polyline points="119.5,365.5 155.5,350.5 188.5,335.5 215.5,320.5 265.5,305.5 278.5,290.5 292.5,275.5 306.5,260.5 319.5,245.5 332.5,230.5 345.5,215.5 357.5,200.5 369.5,185.5 380.5,170.5 388.5,155.5 392.5,140.5 395.5,125.5 398.5,110.5 402.5,95.5 406.5,80.5"/>
<polyline points="121.5,365.5 166.5,350.5 189.5,335.5 216.5,320.5 251.5,305.5 259.5,290.5 273.5,275.5 286.5,260.5 299.5,245.5 312.5,230.5 324.5,215.5 336.5,200.5 348.5,185.5 359.5,170.5 376.5,155.5 385.5,140.5 407.5,125.5 410.5,110.5 415.5,95.5 417.5,80.5"/>
<polyline points="120.5,365.5 156.5,350.5 189.5,335.5 217.5,320.5 244.5,305.5 259.5,290.5 273.5,275.5 286.5,260.5 299.5,245.5 312.5,230.5 325.5,215.5 337.5,200.5 349.5,185.5 360.5,170.5 370.5,155.5 398.5,140.5 403.5,125.5 403.5,110.5 418.5,95.5 426.5,80.5"/>
<polyline points="120.5,365.5 167.5,350.5 205.5,335.5 235.5,320.5 268.5,305.5 281.5,290.5 291.5,275.5 309.5,260.5 320.5,245.5 336.5,230.5 348.5,215.5 354.5,200.5 361.5,185.5 364.5,170.5 371.5,155.5 381.5,140.5 389.5,125.5 395.5,110.5 400.5,95.5 405.5,80.5"/>
<polyline points="122.5,365.5 163.5,350.5 205.5,335.5 228.5,320.5 264.5,305.5 276.5,290.5 293.5,275.5 297.5,260.5 301.5,245.5 314.5,230.5 330.5,215.5 342.5,200.5 353.5,185.5 361.5,170.5 376.5,155.5 387.5,140.5 393.5,125.5 406.5,110.5 418.5,95.5 423.5,80.5"/>
<polyline points="120.5,365.5 158.5,350.5 191.5,335.5 219.5,320.5 247.5,305.5 262.5,290.5 276.5,275.5 289.5,260.5 319.5,245.5 332.5,230.5 350.5,215.5 358.5,200.5 361.5,185.5 364.5,170.5 376.5,155.5 392.5,140.5 401.5,125.5 405.5,110.5 408.5,95.5 410.5,80.5"/>
<polyline points="122.5,365.5 158.5,350.5 192.5,335.5 220.5,320.5 267.5,305.5 284.5,290.5 298.5,275.5 312.5,260.5 325.5,245.5 329.5,230.5 340.5,215.5 348.5,200.5 353.5,185.5 371.5,170.5 384.5,155.5 388.5,140.5 392.5,125.5 405.5,110.5 411.5,95.5 414.5,80.5"/>
<polyline points="122.5,365.5 159.5,350.5 207.5,335.5 238.5,320.5 271.5,305.5 285.5,290.5 299.5,275.5 313.5,260.5 326.5,245.5 339.5,230.5 352.5,215.5 364.5,200.5 376.5,185.5 387.5,170.5 397.5,155.5 403.5,140.5 412.5,125.5 415.5,110.5 416.5,95.5 418.5,80.5"/>
<polyline points="122.5,365.5 159.5,350.5 192.5,335.5 221.5,320.5 249.5,305.5 264.5,290.5 278.5,275.5 291.5,260.5 304.5,245.5 317.5,230.5 330.5,215.5 342.5,200.5 366.5,185.5 372.5,170.5 391.5,155.5 395.5,140.5 396.5,125.5 401.5,110.5 413.5,95.5 415.5,80.5"/>
<polyline points="122.5,365.5 159.5,350.5 208.5,335.5 240.5,320.5 273.5,305.5 286.5,290.5 301.5,275.5 315.5,260.5 328.5,245.5 341.5,230.5 354.5,215.5 366.5,200.5 378.5,185.5 389.5,170.5 399.5,155.5 403.5,140.5 404.5,125.5 409.5,110.5 413.5,95.5 416.5,80.5"/>
<polyline points="123.5,365.5 170.5,350.5 209.5,335.5 240.5,320.5 274.5,305.5 287.5,290.5 301.5,275.5 316.5,260.5 329.5,245.5 342.5,230.5 354.5,215.5 367.5,200.5 379.5,185.5 383.5,170.5 391.5,155.5 403.5,140.5 412.5,125.5 419.5,110.5 421.5,95.5 422.5,80.5"/>
<polyline points="122.5,365.5 160.5,350.5 195.5,335.5 223.5,320.5 260.5,305.5 276.5,290.5 294.5,275.5 304.5,260.5 323.5,245.5 337.5,230.5 355.5,215.5 362.5,200.5 380.5,185.5 390.5,170.5 401.5,155.5 406.5,140.5 416.5,125.5 418.5,110.5 422.5,95.5 423.5,80.5"/>
<polyline points="123.5,365.5 170.5,350.5 210.5,335.5 242.5,320.5 275.5,305.5 289.5,290.5 303.5,275.5 317.5,260.5 331.5,245.5 344.5,230.5 356.5,215.5 369.5,200.5 376.5,185.5 391.5,170.5 395.5,155.5 395.5,140.5 414.5,125.5 421.5,110.5 428.5,95.5 430.5,80.5"/>
<polyline points="123.5,365.5 169.5,350.5 211.5,335.5 242.5,320.5 270.5,305.5 277.5,290.5 286.5,275.5 300.5,260.5 332.5,245.5 345.5,230.5 357.5,215.5 370.5,200.5 382.5,185.5 392.5,170.5 399.5,155.5 401.5,140.5 411.5,125.5 411.5,110.5 414.5,95.5 417.5,80.5"/>
<polyline points="124.5,365.5 161.5,350.5 196.5,335.5 225.5,320.5 255.5,305.5 277.5,290.5 283.5,275.5 308.5,260.5 320.5,245.5 344.5,230.5 347.5,215.5 350.5,200.5 359.5,185.5 373.5,170.5 387.5,155.5 392.5,140.5 398.5,125.5 404.5,110.5 410.5,95.5 414.5,80.5"/>
<polyline points="123.5,365.5 162.5,350.5 197.5,335.5 229.5,320.5 264.5,305.5 276.5,290.5 284.5,275.5 298.5,260.5 311.5,245.5 324.5,230.5 337.5,215.5 349.5,200.5 361.5,185.5 372.5,170.5 382.5,155.5 392.5,140.5 417.5,125.5 419.5,110.5 422.5,95.5 427.5,80.5"/>
<polyline points="124.5,365.5 172.5,350.5 211.5,335.5 232.5,320.5 257.5,305.5 271.5,290.5 300.5,275.5 301.5,260.5 312.5,245.5 325.5,230.5 337.5,215.5 364.5,200.5 374.5,185.5 395.5,170.5 397.5,155.5 405.5,140.5 413.5,125.5 416.5,110.5 419.5,95.5 425.5,80.5"/>
<polyline points="124.5,365.5 172.5,350.5 213.5,335.5 245.5,320.5 273.5,305.5 279.5,290.5 285.5,275.5 299.5,260.5 312.5,245.5 325.5,230.5 338.5,215.5 350.5,200.5 363.5,185.5 378.5,170.5 397.5,155.5 410.5,140.5 419.5,125.5 423.5,110.5 427.5,95.5 433.5,80.5"/>
<polyline points="124.5,365.5 165.5,350.5 199.5,335.5 228.5,320.5 259.5,305.5 273.5,290.5 287.5,275.5 301.5,260.5 314.5,245.5 327.5,230.5 339.5,215.5 351.5,200.5 363.5,185.5 376.5,170.5 385.5,155.5 394.5,140.5 402.5,125.5 408.5,110.5 414.5,95.5 418.5,80.5"/>
<polyline points="124.5,365.5 169.5,350.5 204.5,335.5 229.5,320.5 260.5,305.5 274.5,290.5 288.5,275.5 302.5,260.5 315.5,245.5 328.5,230.5 340.5,215.5 352.5,200.5 364.5,185.5 375.5,170.5 386.5,155.5 396.5,140.5 403.5,125.5 409.5,110.5 415.5,95.5 419.5,80.5"/>
<polyline points="125.5,365.5 164.5,350.5 200.5,335.5 230.5,320.5 261.5,305.5 283.5,290.5 302.5,275.5 318.5,260.5 338.5,245.5 349.5,230.5 360.5,215.5 365.5,200.5 376.5,185.5 390.5,170.5 395.5,155.5 407.5,140.5 422.5,125.5 432.5,110.5 438.5,95.5 444.5,80.5"/>
<polyline points="125.5,365.5 174.5,350.5 215.5,335.5 248.5,320.5 266.5,305.5 281.5,290.5 308.5,275.5 318.5,260.5 325.5,245.5 342.5,230.5 345.5,215.5 354.5,200.5 375.5,185.5 387.5,170.5 403.5,155.5 409.5,140.5 414.5,125.5 420.5,110.5 432.5,95.5 438.5,80.5"/>
<polyline points="126.5,365.5 174.5,350.5 216.5,335.5 245.5,320.5 277.5,305.5 293.5,290.5 312.5,275.5 322.5,260.5 326.5,245.5 332.5,230.5 357.5,215.5 361.5,200.5 381.5,185.5 401.5,170.5 410.5,155.5 419.5,140.5 423.5,125.5 429.5,110.5 430.5,95.5 434.5,80.5"/>
<polyline points="125.5,365.5 175.5,350.5 216.5,335.5 249.5,320.5 284.5,305.5 297.5,290.5 312.5,275.5 327.5,260.5 340.5,245.5 353.5,230.5 366.5,215.5 378.5,200.5 390.5,185.5 401.5,170.5 411.5,155.5 419.5,140.5 423.5,125.5 426.5,110.5 438.5,95.5 439.5,80.5"/>
<polyline points="125.5,365.5 165.5,350.5 202.5,335.5 233.5,320.5 264.5,305.5 278.5,290.5 304.5,275.5 328.5,260.5 341.5,245.5 354.5,230.5 364.5,215.5 372.5,200.5 392.5,185.5 403.5,170.5 412.5,155.5 421.5,140.5 428.5,125.5 434.5,110.5 438.5,95.5 448.5,80.5"/>
<polyline points="126.5,365.5 166.5,350.5 218.5,335.5 251.5,320.5 286.5,305.5 299.5,290.5 314.5,275.5 329.5,260.5 342.5,245.5 355.5,230.5 368.5,215.5 380.5,200.5 393.5,185.5 403.5,170.5 413.5,155.5 421.5,140.5 429.5,125.5 435.5,110.5 443.5,95.5 448.5,80.5"/>
<polyline points="126.5,365.5 176.5,350.5 218.5,335.5 248.5,320.5 287.5,305.5 300.5,290.5 315.5,275.5 330.5,260.5 343.5,245.5 356.5,230.5 369.5,215.5 381.5,200.5 394.5,185.5 405.5,170.5 414.5,155.5 422.5,140.5 426.5,125.5 430.5,110.5 435.5,95.5 439.5,80.5"/>
<polyline points="126.5,365.5 176.5,350.5 218.5,335.5 248.5,320.5 277.5,305.5 289.5,290.5 301.5,275.5 309.5,260.5 327.5,245.5 344.5,230.5 365.5,215.5 378.5,200.5 384.5,185.5 396.5,170.5 412.5,155.5 418.5,140.5 427.5,125.5 428.5,110.5 433.5,95.5 434.5,80.5"/>
<polyline points="127.5,365.5 177.5,350.5 219.5,335.5 249.5,320.5 286.5,305.5 296.5,290.5 299.5,275.5 328.5,260.5 345.5,245.5 358.5,230.5 370.5,215.5 383.5,200.5 391.5,185.5 395.5,170.5 400.5,155.5 412.5,140.5 428.5,125.5 432.5,110.5 435.5,95.5 441.5,80.5"/>
<polyline points="126.5,365.5 177.5,350.5 220.5,335.5 241.5,320.5 290.5,305.5 303.5,290.5 318.5,275.5 332.5,260.5 346.5,245.5 359.5,230.5 370.5,215.5 374.5,200.5 385.5,185.5 393.5,170.5 404.5,155.5 415.5,140.5 426.5,125.5 430.5,110.5 435.5,95.5 439.5,80.5"/>
<polyline points="127.5,365.5 167.5,350.5 206.5,335.5 237.5,320.5 272.5,305.5 288.5,290.5 297.5,275.5 321.5,260.5 328.5,245.5 355.5,230.5 361.5,215.5 373.5,200.5 381.5,185.5 393.5,170.5 400.5,155.5 409.5,140.5 421.5,125.5 435.5,110.5 441.5,95.5 445.5,80.5"/>
<polyline points="126.5,365.5 178.5,350.5 221.5,335.5 254.5,320.5 291.5,305.5 304.5,290.5 319.5,275.5 334.5,260.5 343.5,245.5 358.5,230.5 372.5,215.5 375.5,200.5 389.5,185.5 394.5,170.5 403.5,155.5 412.5,140.5 418.5,125.5 420.5,110.5 428.5,95.5 433.5,80.5"/>
<polyline points="126.5,365.5 168.5,350.5 215.5,335.5 243.5,320.5 292.5,305.5 295.5,290.5 299.5,275.5 313.5,260.5 326.5,245.5 339.5,230.5 351.5,215.5 364.5,200.5 376.5,185.5 387.5,170.5 397.5,155.5 406.5,140.5 414.5,125.5 424.5,110.5 428.5,95.5 431.5,80.5"/>
<polyline points="128.5,365.5 172.5,350.5 208.5,335.5 256.5,320.5 293.5,305.5 303.5,290.5 321.5,275.5 336.5,260.5 349.5,245.5 363.5,230.5 367.5,215.5 384.5,200.5 400.5,185.5 411.5,170.5 415.5,155.5 418.5,140.5 421.5,125.5 430.5,110.5 433.5,95.5 438.5,80.5"/>
<polyline points="127.5,365.5 169.5,350.5 223.5,335.5 257.5,320.5 294.5,305.5 307.5,290.5 322.5,275.5 337.5,260.5 350.5,245.5 363.5,230.5 376.5,215.5 389.5,200.5 401.5,185.5 412.5,170.5 421.5,155.5 425.5,140.5 433.5,125.5 437.5,110.5 441.5,95.5 447.5,80.5"/>
<polyline points="129.5,365.5 179.5,350.5 223.5,335.5 258.5,320.5 291.5,305.5 308.5,290.5 319.5,275.5 332.5,260.5 348.5,245.5 357.5,230.5 366.5,215.5 368.5,200.5 379.5,185.5 390.5,170.5 400.5,155.5 409.5,140.5 424.5,125.5 429.5,110.5 433.5,95.5 434.5,80.5"/>
<polyline points="128.5,365.5 170.5,350.5 209.5,335.5 241.5,320.5 274.5,305.5 287.5,290.5 305.5,275.5 316.5,260.5 337.5,245.5 365.5,230.5 377.5,215.5 390.5,200.5 402.5,185.5 413.5,170.5 422.5,155.5 430.5,140.5 438.5,125.5 445.5,110.5 452.5,95.5 458.5,80.5"/>
<polyline points="129.5,365.5 170.5,350.5 210.5,335.5 242.5,320.5 284.5,305.5 293.5,290.5 313.5,275.5 329.5,260.5 346.5,245.5 359.5,230.5 364.5,215.5 376.5,200.5 395.5,185.5 410.5,170.5 412.5,155.5 432.5,140.5 439.5,125.5 442.5,110.5 448.5,95.5 456.5,80.5"/>
<polyline points="128.5,365.5 170.5,350.5 210.5,335.5 242.5,320.5 276.5,305.5 289.5,290.5 303.5,275.5 318.5,260.5 338.5,245.5 358.5,230.5 377.5,215.5 386.5,200.5 404.5,185.5 415.5,170.5 422.5,155.5 432.5,140.5 440.5,125.5 447.5,110.5 454.5,95.5 461.5,80.5"/>
<polyline points="129.5,365.5 181.5,350.5 219.5,335.5 255.5,320.5 298.5,305.5 311.5,290.5 318.5,275.5 321.5,260.5 332.5,245.5 345.5,230.5 358.5,215.5 382.5,200.5 395.5,185.5 398.5,170.5 404.5,155.5 412.5,140.5 420.5,125.5 426.5,110.5 433.5,95.5 438.5,80.5"/>
<polyline points="128.5,365.5 171.5,350.5 212.5,335.5 244.5,320.5 278.5,305.5 291.5,290.5 305.5,275.5 320.5,260.5 333.5,245.5 346.5,230.5 359.5,215.5 371.5,200.5 383.5,185.5 398.5,170.5 412.5,155.5 415.5,140.5 431.5,125.5 435.5,110.5 443.5,95.5 459.5,80.5"/>
<polyline points="129.5,365.5 182.5,350.5 227.5,335.5 249.5,320.5 279.5,305.5 292.5,290.5 306.5,275.5 321.5,260.5 334.5,245.5 347.5,230.5 360.5,215.5 372.5,200.5 384.5,185.5 395.5,170.5 405.5,155.5 414.5,140.5 423.5,125.5 428.5,110.5 440.5,95.5 443.5,80.5"/>
<polyline points="130.5,365.5 182.5,350.5 213.5,335.5 262.5,320.5 300.5,305.5 314.5,290.5 329.5,275.5 344.5,260.5 357.5,245.5 370.5,230.5 383.5,215.5 395.5,200.5 401.5,185.5 415.5,170.5 422.5,155.5 432.5,140.5 441.5,125.5 446.5,110.5 454.5,95.5 462.5,80.5"/>
<polyline points="130.5,365.5 173.5,350.5 213.5,335.5 246.5,320.5 280.5,305.5 293.5,290.5 308.5,275.5 322.5,260.5 336.5,245.5 349.5,230.5 361.5,215.5 376.5,200.5 386.5,185.5 397.5,170.5 407.5,155.5 419.5,140.5 431.5,125.5 437.5,110.5 443.5,95.5 450.5,80.5"/>
<polyline points="130.5,365.5 173.5,350.5 214.5,335.5 247.5,320.5 297.5,305.5 304.5,290.5 320.5,275.5 332.5,260.5 350.5,245.5 357.5,230.5 367.5,215.5 392.5,200.5 393.5,185.5 417.5,170.5 423.5,155.5 429.5,140.5 440.5,125.5 442.5,110.5 451.5,95.5 462.5,80.5"/>
<polyline points="130.5,365.5 173.5,350.5 220.5,335.5 264.5,320.5 301.5,305.5 313.5,290.5 319.5,275.5 346.5,260.5 360.5,245.5 373.5,230.5 377.5,215.5 393.5,200.5 400.5,185.5 409.5,170.5 416.5,155.5 430.5,140.5 436.5,125.5 442.5,110.5 444.5,95.5 450.5,80.5"/>
<polyline points="129.5,365.5 175.5,350.5 215.5,335.5 248.5,320.5 282.5,305.5 296.5,290.5 317.5,275.5 327.5,260.5 338.5,245.5 351.5,230.5 364.5,215.5 394.5,200.5 404.5,185.5 422.5,170.5 431.5,155.5 439.5,140.5 447.5,125.5 454.5,110.5 461.5,95.5 468.5,80.5"/>
<polyline points="130.5,365.5 184.5,350.5 230.5,335.5 266.5,320.5 305.5,305.5 318.5,290.5 333.5,275.5 348.5,260.5 362.5,245.5 375.5,230.5 388.5,215.5 400.5,200.5 409.5,185.5 411.5,170.5 422.5,155.5 430.5,140.5 437.5,125.5 447.5,110.5 450.5,95.5 450.5,80.5"/>
<polyline points="131.5,365.5 184.5,350.5 230.5,335.5 266.5,320.5 305.5,305.5 318.5,290.5 333.5,275.5 348.5,260.5 362.5,245.5 375.5,230.5 388.5,215.5 400.5,200.5 413.5,185.5 424.5,170.5 433.5,155.5 441.5,140.5 447.5,125.5 448.5,110.5 450.5,95.5 457.5,80.5"/>
<polyline points="131.5,365.5 185.5,350.5 231.5,335.5 267.5,320.5 306.5,305.5 319.5,290.5 334.5,275.5 350.5,260.5 363.5,245.5 377.5,230.5 389.5,215.5 402.5,200.5 414.5,185.5 425.5,170.5 434.5,155.5 442.5,140.5 450.5,125.5 457.5,110.5 464.5,95.5 471.5,80.5"/>
<polyline points="131.5,365.5 175.5,350.5 217.5,335.5 250.5,320.5 293.5,305.5 300.5,290.5 314.5,275.5 328.5,260.5 342.5,245.5 355.5,230.5 367.5,215.5 380.5,200.5 392.5,185.5 403.5,170.5 412.5,155.5 421.5,140.5 429.5,125.5 436.5,110.5 448.5,95.5 452.5,80.5"/>
<polyline points="132.5,365.5 176.5,350.5 221.5,335.5 251.5,320.5 287.5,305.5 302.5,290.5 315.5,275.5 332.5,260.5 343.5,245.5 356.5,230.5 369.5,215.5 381.5,200.5 393.5,185.5 404.5,170.5 414.5,155.5 422.5,140.5 430.5,125.5 437.5,110.5 444.5,95.5 450.5,80.5"/>
<polyline points="131.5,365.5 181.5,350.5 219.5,335.5 269.5,320.5 296.5,305.5 301.5,290.5 322.5,275.5 330.5,260.5 344.5,245.5 357.5,230.5 369.5,215.5 382.5,200.5 394.5,185.5 405.5,170.5 421.5,155.5 423.5,140.5 433.5,125.5 448.5,110.5 450.5,95.5 458.5,80.5"/>
<polyline points="131.5,365.5 177.5,350.5 234.5,335.5 265.5,320.5 289.5,305.5 302.5,290.5 317.5,275.5 331.5,260.5 353.5,245.5 371.5,230.5 382.5,215.5 397.5,200.5 406.5,185.5 413.5,170.5 425.5,155.5 425.5,140.5 432.5,125.5 439.5,110.5 446.5,95.5 452.5,80.5"/>
<polyline points="131.5,365.5 177.5,350.5 220.5,335.5 259.5,320.5 290.5,305.5 303.5,290.5 318.5,275.5 332.5,260.5 346.5,245.5 360.5,230.5 372.5,215.5 384.5,200.5 400.5,185.5 414.5,170.5 419.5,155.5 431.5,140.5 434.5,125.5 445.5,110.5 450.5,95.5 460.5,80.5"/>
<polyline points="132.5,365.5 181.5,350.5 235.5,335.5 271.5,320.5 306.5,305.5 312.5,290.5 322.5,275.5 355.5,260.5 369.5,245.5 382.5,230.5 395.5,215.5 408.5,200.5 420.5,185.5 431.5,170.5 440.5,155.5 448.5,140.5 455.5,125.5 463.5,110.5 470.5,95.5 477.5,80.5"/>
<polyline points="133.5,365.5 188.5,350.5 235.5,335.5 254.5,320.5 291.5,305.5 304.5,290.5 322.5,275.5 334.5,260.5 360.5,245.5 365.5,230.5 391.5,215.5 405.5,200.5 408.5,185.5 423.5,170.5 432.5,155.5 434.5,140.5 436.5,125.5 443.5,110.5 455.5,95.5 456.5,80.5"/>
<polyline points="133.5,365.5 182.5,350.5 227.5,335.5 256.5,320.5 292.5,305.5 305.5,290.5 320.5,275.5 335.5,260.5 348.5,245.5 361.5,230.5 374.5,215.5 388.5,200.5 399.5,185.5 410.5,170.5 419.5,155.5 427.5,140.5 435.5,125.5 442.5,110.5 449.5,95.5 455.5,80.5"/>
<polyline points="133.5,365.5 188.5,350.5 236.5,335.5 273.5,320.5 313.5,305.5 326.5,290.5 342.5,275.5 357.5,260.5 371.5,245.5 384.5,230.5 397.5,215.5 410.5,200.5 422.5,185.5 433.5,170.5 442.5,155.5 450.5,140.5 457.5,125.5 465.5,110.5 472.5,95.5 477.5,80.5"/>
<polyline points="133.5,365.5 179.5,350.5 223.5,335.5 257.5,320.5 294.5,305.5 307.5,290.5 321.5,275.5 336.5,260.5 350.5,245.5 363.5,230.5 381.5,215.5 406.5,200.5 422.5,185.5 433.5,170.5 437.5,155.5 450.5,140.5 458.5,125.5 466.5,110.5 471.5,95.5 480.5,80.5"/>
<polyline points="133.5,365.5 184.5,350.5 223.5,335.5 258.5,320.5 295.5,305.5 308.5,290.5 323.5,275.5 338.5,260.5 351.5,245.5 364.5,230.5 377.5,215.5 389.5,200.5 402.5,185.5 423.5,170.5 433.5,155.5 450.5,140.5 459.5,125.5 467.5,110.5 474.5,95.5 482.5,80.5"/>
<polyline points="133.5,365.5 190.5,350.5 224.5,335.5 259.5,320.5 308.5,305.5 315.5,290.5 323.5,275.5 341.5,260.5 352.5,245.5 365.5,230.5 378.5,215.5 390.5,200.5 403.5,185.5 413.5,170.5 423.5,155.5 438.5,140.5 449.5,125.5 458.5,110.5 462.5,95.5 476.5,80.5"/>
<polyline points="133.5,365.5 190.5,350.5 239.5,335.5 275.5,320.5 316.5,305.5 330.5,290.5 345.5,275.5 361.5,260.5 375.5,245.5 388.5,230.5 399.5,215.5 401.5,200.5 403.5,185.5 414.5,170.5 425.5,155.5 434.5,140.5 442.5,125.5 448.5,110.5 454.5,95.5 460.5,80.5"/>
<polyline points="133.5,365.5 190.5,350.5 239.5,335.5 260.5,320.5 297.5,305.5 310.5,290.5 325.5,275.5 340.5,260.5 354.5,245.5 379.5,230.5 382.5,215.5 392.5,200.5 412.5,185.5 423.5,170.5 426.5,155.5 438.5,140.5 446.5,125.5 448.5,110.5 454.5,95.5 461.5,80.5"/>
<polyline points="133.5,365.5 181.5,350.5 226.5,335.5 260.5,320.5 298.5,305.5 311.5,290.5 326.5,275.5 341.5,260.5 355.5,245.5 368.5,230.5 380.5,215.5 393.5,200.5 405.5,185.5 418.5,170.5 428.5,155.5 445.5,140.5 454.5,125.5 460.5,110.5 461.5,95.5 465.5,80.5"/>
<polyline points="135.5,365.5 181.5,350.5 226.5,335.5 260.5,320.5 298.5,305.5 311.5,290.5 326.5,275.5 341.5,260.5 355.5,245.5 368.5,230.5 381.5,215.5 401.5,200.5 423.5,185.5 431.5,170.5 443.5,155.5 453.5,140.5 461.5,125.5 465.5,110.5 478.5,95.5 485.5,80.5"/>
<polyline points="135.5,365.5 181.5,350.5 241.5,335.5 278.5,320.5 319.5,305.5 333.5,290.5 349.5,275.5 365.5,260.5 378.5,245.5 391.5,230.5 404.5,215.5 417.5,200.5 428.5,185.5 440.5,170.5 446.5,155.5 453.5,140.5 464.5,125.5 464.5,110.5 468.5,95.5 478.5,80.5"/>
<polyline points="136.5,365.5 182.5,350.5 227.5,335.5 262.5,320.5 300.5,305.5 313.5,290.5 328.5,275.5 344.5,260.5 370.5,245.5 372.5,230.5 383.5,215.5 408.5,200.5 421.5,185.5 436.5,170.5 443.5,155.5 458.5,140.5 462.5,125.5 473.5,110.5 475.5,95.5 481.5,80.5"/>
<polyline points="136.5,365.5 188.5,350.5 228.5,335.5 263.5,320.5 301.5,305.5 321.5,290.5 341.5,275.5 358.5,260.5 381.5,245.5 394.5,230.5 407.5,215.5 419.5,200.5 432.5,185.5 443.5,170.5 451.5,155.5 459.5,140.5 466.5,125.5 472.5,110.5 473.5,95.5 474.5,80.5"/>
<polyline points="136.5,365.5 183.5,350.5 228.5,335.5 263.5,320.5 315.5,305.5 326.5,290.5 333.5,275.5 357.5,260.5 359.5,245.5 375.5,230.5 398.5,215.5 407.5,200.5 425.5,185.5 432.5,170.5 437.5,155.5 437.5,140.5 445.5,125.5 452.5,110.5 459.5,95.5 466.5,80.5"/>
<polyline points="135.5,365.5 193.5,350.5 243.5,335.5 281.5,320.5 323.5,305.5 337.5,290.5 353.5,275.5 369.5,260.5 383.5,245.5 395.5,230.5 403.5,215.5 410.5,200.5 433.5,185.5 444.5,170.5 450.5,155.5 457.5,140.5 461.5,125.5 470.5,110.5 473.5,95.5 490.5,80.5"/>
<polyline points="136.5,365.5 184.5,350.5 230.5,335.5 265.5,320.5 304.5,305.5 322.5,290.5 351.5,275.5 360.5,260.5 381.5,245.5 388.5,230.5 409.5,215.5 420.5,200.5 428.5,185.5 429.5,170.5 435.5,155.5 453.5,140.5 455.5,125.5 475.5,110.5 481.5,95.5 485.5,80.5"/>
<polyline points="136.5,365.5 184.5,350.5 245.5,335.5 266.5,320.5 315.5,305.5 338.5,290.5 354.5,275.5 371.5,260.5 385.5,245.5 397.5,230.5 410.5,215.5 423.5,200.5 435.5,185.5 446.5,170.5 455.5,155.5 462.5,140.5 469.5,125.5 477.5,110.5 482.5,95.5 483.5,80.5"/>
<polyline points="136.5,365.5 194.5,350.5 245.5,335.5 275.5,320.5 311.5,305.5 324.5,290.5 355.5,275.5 371.5,260.5 378.5,245.5 389.5,230.5 398.5,215.5 410.5,200.5 426.5,185.5 447.5,170.5 455.5,155.5 462.5,140.5 464.5,125.5 477.5,110.5 485.5,95.5 488.5,80.5"/>
<polyline points="137.5,365.5 185.5,350.5 231.5,335.5 278.5,320.5 320.5,305.5 326.5,290.5 336.5,275.5 351.5,260.5 363.5,245.5 376.5,230.5 389.5,215.5 402.5,200.5 414.5,185.5 425.5,170.5 434.5,155.5 442.5,140.5 459.5,125.5 475.5,110.5 477.5,95.5 480.5,80.5"/>
<polyline points="136.5,365.5 185.5,350.5 246.5,335.5 284.5,320.5 327.5,305.5 341.5,290.5 358.5,275.5 374.5,260.5 388.5,245.5 401.5,230.5 413.5,215.5 426.5,200.5 439.5,185.5 449.5,170.5 458.5,155.5 465.5,140.5 472.5,125.5 480.5,110.5 488.5,95.5 491.5,80.5"/>
<polyline points="137.5,365.5 186.5,350.5 233.5,335.5 268.5,320.5 308.5,305.5 327.5,290.5 350.5,275.5 375.5,260.5 389.5,245.5 394.5,230.5 406.5,215.5 422.5,200.5 428.5,185.5 449.5,170.5 456.5,155.5 458.5,140.5 464.5,125.5 467.5,110.5 472.5,95.5 480.5,80.5"/>
<polyline points="137.5,365.5 196.5,350.5 238.5,335.5 269.5,320.5 308.5,305.5 322.5,290.5 340.5,275.5 352.5,260.5 366.5,245.5 379.5,230.5 392.5,215.5 404.5,200.5 416.5,185.5 427.5,170.5 436.5,155.5 444.5,140.5 452.5,125.5 466.5,110.5 469.5,95.5 474.5,80.5"/>
<polyline points="137.5,365.5 196.5,350.5 248.5,335.5 286.5,320.5 329.5,305.5 344.5,290.5 361.5,275.5 377.5,260.5 391.5,245.5 404.5,230.5 416.5,215.5 429.5,200.5 442.5,185.5 453.5,170.5 461.5,155.5 468.5,140.5 475.5,125.5 482.5,110.5 490.5,95.5 498.5,80.5"/>
<polyline points="138.5,365.5 187.5,350.5 234.5,335.5 270.5,320.5 319.5,305.5 343.5,290.5 352.5,275.5 355.5,260.5 370.5,245.5 380.5,230.5 393.5,215.5 415.5,200.5 430.5,185.5 437.5,170.5 439.5,155.5 447.5,140.5 453.5,125.5 475.5,110.5 487.5,95.5 494.5,80.5"/>
<polyline points="138.5,365.5 197.5,350.5 249.5,335.5 281.5,320.5 330.5,305.5 345.5,290.5 362.5,275.5 369.5,260.5 380.5,245.5 394.5,230.5 418.5,215.5 428.5,200.5 440.5,185.5 447.5,170.5 460.5,155.5 464.5,140.5 466.5,125.5 473.5,110.5 474.5,95.5 487.5,80.5"/>
<polyline points="138.5,365.5 187.5,350.5 250.5,335.5 288.5,320.5 331.5,305.5 346.5,290.5 364.5,275.5 380.5,260.5 393.5,245.5 407.5,230.5 413.5,215.5 423.5,200.5 439.5,185.5 444.5,170.5 454.5,155.5 455.5,140.5 465.5,125.5 472.5,110.5 484.5,95.5 488.5,80.5"/>
<polyline points="138.5,365.5 188.5,350.5 250.5,335.5 289.5,320.5 332.5,305.5 346.5,290.5 355.5,275.5 378.5,260.5 379.5,245.5 396.5,230.5 402.5,215.5 425.5,200.5 441.5,185.5 447.5,170.5 453.5,155.5 457.5,140.5 470.5,125.5 472.5,110.5 475.5,95.5 488.5,80.5"/>
<polyline points="138.5,365.5 188.5,350.5 237.5,335.5 273.5,320.5 325.5,305.5 347.5,290.5 361.5,275.5 382.5,260.5 396.5,245.5 409.5,230.5 422.5,215.5 431.5,200.5 442.5,185.5 457.5,170.5 464.5,155.5 471.5,140.5 475.5,125.5 486.5,110.5 489.5,95.5 493.5,80.5"/>
<polyline points="140.5,365.5 189.5,350.5 237.5,335.5 288.5,320.5 314.5,305.5 338.5,290.5 355.5,275.5 359.5,260.5 372.5,245.5 385.5,230.5 397.5,215.5 423.5,200.5 443.5,185.5 448.5,170.5 457.5,155.5 474.5,140.5 478.5,125.5 480.5,110.5 488.5,95.5 494.5,80.5"/>
<polyline points="139.5,365.5 189.5,350.5 237.5,335.5 274.5,320.5 334.5,305.5 350.5,290.5 367.5,275.5 384.5,260.5 398.5,245.5 403.5,230.5 411.5,215.5 423.5,200.5 427.5,185.5 434.5,170.5 443.5,155.5 451.5,140.5 463.5,125.5 476.5,110.5 480.5,95.5 490.5,80.5"/>
<polyline points="139.5,365.5 200.5,350.5 252.5,335.5 291.5,320.5 335.5,305.5 351.5,290.5 367.5,275.5 371.5,260.5 376.5,245.5 386.5,230.5 404.5,215.5 419.5,200.5 439.5,185.5 452.5,170.5 461.5,155.5 472.5,140.5 480.5,125.5 484.5,110.5 486.5,95.5 489.5,80.5"/>
<polyline points="140.5,365.5 201.5,350.5 239.5,335.5 276.5,320.5 316.5,305.5 329.5,290.5 345.5,275.5 361.5,260.5 375.5,245.5 387.5,230.5 400.5,215.5 413.5,200.5 425.5,185.5 436.5,170.5 445.5,155.5 453.5,140.5 460.5,125.5 470.5,110.5 477.5,95.5 494.5,80.5"/>
<polyline points="140.5,365.5 201.5,350.5 254.5,335.5 293.5,320.5 337.5,305.5 353.5,290.5 371.5,275.5 389.5,260.5 395.5,245.5 398.5,230.5 409.5,215.5 425.5,200.5 428.5,185.5 441.5,170.5 462.5,155.5 466.5,140.5 473.5,125.5 485.5,110.5 500.5,95.5 506.5,80.5"/>
<polyline points="139.5,365.5 201.5,350.5 254.5,335.5 293.5,320.5 337.5,305.5 354.5,290.5 372.5,275.5 389.5,260.5 403.5,245.5 416.5,230.5 429.5,215.5 441.5,200.5 453.5,185.5 464.5,170.5 469.5,155.5 476.5,140.5 479.5,125.5 481.5,110.5 490.5,95.5 498.5,80.5"/>
<polyline points="139.5,365.5 198.5,350.5 240.5,335.5 278.5,320.5 319.5,305.5 332.5,290.5 348.5,275.5 364.5,260.5 378.5,245.5 393.5,230.5 422.5,215.5 428.5,200.5 454.5,185.5 463.5,170.5 474.5,155.5 480.5,140.5 487.5,125.5 494.5,110.5 501.5,95.5 504.5,80.5"/>
<polyline points="140.5,365.5 201.5,350.5 241.5,335.5 294.5,320.5 329.5,305.5 356.5,290.5 374.5,275.5 387.5,260.5 394.5,245.5 419.5,230.5 431.5,215.5 444.5,200.5 453.5,185.5 460.5,170.5 464.5,155.5 465.5,140.5 466.5,125.5 471.5,110.5 479.5,95.5 487.5,80.5"/>
<polyline points="141.5,365.5 192.5,350.5 243.5,335.5 279.5,320.5 321.5,305.5 334.5,290.5 350.5,275.5 367.5,260.5 380.5,245.5 395.5,230.5 418.5,215.5 439.5,200.5 453.5,185.5 469.5,170.5 476.5,155.5 483.5,140.5 489.5,125.5 494.5,110.5 501.5,95.5 511.5,80.5"/>
<polyline points="141.5,365.5 192.5,350.5 257.5,335.5 296.5,320.5 334.5,305.5 347.5,290.5 353.5,275.5 366.5,260.5 380.5,245.5 392.5,230.5 405.5,215.5 418.5,200.5 451.5,185.5 455.5,170.5 461.5,155.5 464.5,140.5 468.5,125.5 477.5,110.5 483.5,95.5 489.5,80.5"/>
<polyline points="141.5,365.5 204.5,350.5 242.5,335.5 280.5,320.5 322.5,305.5 335.5,290.5 351.5,275.5 367.5,260.5 381.5,245.5 394.5,230.5 406.5,215.5 419.5,200.5 432.5,185.5 443.5,170.5 451.5,155.5 459.5,140.5 466.5,125.5 474.5,110.5 482.5,95.5 492.5,80.5"/>
<polyline points="142.5,365.5 193.5,350.5 259.5,335.5 297.5,320.5 339.5,305.5 348.5,290.5 365.5,275.5 373.5,260.5 391.5,245.5 422.5,230.5 436.5,215.5 446.5,200.5 448.5,185.5 459.5,170.5 463.5,155.5 469.5,140.5 484.5,125.5 499.5,110.5 504.5,95.5 506.5,80.5"/>
<polyline points="142.5,365.5 201.5,350.5 243.5,335.5 298.5,320.5 343.5,305.5 362.5,290.5 381.5,275.5 398.5,260.5 413.5,245.5 427.5,230.5 430.5,215.5 434.5,200.5 442.5,185.5 456.5,170.5 462.5,155.5 476.5,140.5 479.5,125.5 481.5,110.5 486.5,95.5 500.5,80.5"/>
<polyline points="141.5,365.5 206.5,350.5 260.5,335.5 298.5,320.5 325.5,305.5 338.5,290.5 373.5,275.5 376.5,260.5 388.5,245.5 419.5,230.5 440.5,215.5 445.5,200.5 461.5,185.5 475.5,170.5 479.5,155.5 488.5,140.5 494.5,125.5 501.5,110.5 508.5,95.5 516.5,80.5"/>
<polyline points="142.5,365.5 194.5,350.5 245.5,335.5 283.5,320.5 325.5,305.5 339.5,290.5 355.5,275.5 371.5,260.5 385.5,245.5 398.5,230.5 410.5,215.5 423.5,200.5 436.5,185.5 466.5,170.5 475.5,155.5 489.5,140.5 496.5,125.5 499.5,110.5 505.5,95.5 507.5,80.5"/>
<polyline points="141.5,365.5 207.5,350.5 262.5,335.5 300.5,320.5 345.5,305.5 365.5,290.5 384.5,275.5 402.5,260.5 418.5,245.5 426.5,230.5 444.5,215.5 449.5,200.5 465.5,185.5 469.5,170.5 481.5,155.5 490.5,140.5 492.5,125.5 495.5,110.5 502.5,95.5 512.5,80.5"/>
<polyline points="141.5,365.5 198.5,350.5 263.5,335.5 301.5,320.5 346.5,305.5 367.5,290.5 384.5,275.5 391.5,260.5 409.5,245.5 434.5,230.5 444.5,215.5 451.5,200.5 462.5,185.5 471.5,170.5 472.5,155.5 474.5,140.5 479.5,125.5 489.5,110.5 494.5,95.5 511.5,80.5"/>
<polyline points="142.5,365.5 195.5,350.5 263.5,335.5 287.5,320.5 327.5,305.5 342.5,290.5 367.5,275.5 373.5,260.5 387.5,245.5 400.5,230.5 415.5,215.5 431.5,200.5 438.5,185.5 448.5,170.5 457.5,155.5 465.5,140.5 472.5,125.5 479.5,110.5 487.5,95.5 493.5,80.5"/>
<polyline points="143.5,365.5 196.5,350.5 247.5,335.5 292.5,320.5 328.5,305.5 342.5,290.5 359.5,275.5 375.5,260.5 389.5,245.5 404.5,230.5 418.5,215.5 430.5,200.5 442.5,185.5 456.5,170.5 459.5,155.5 475.5,140.5 484.5,125.5 487.5,110.5 492.5,95.5 500.5,80.5"/>
<polyline points="143.5,365.5 196.5,350.5 247.5,335.5 285.5,320.5 328.5,305.5 343.5,290.5 359.5,275.5 387.5,260.5 399.5,245.5 411.5,230.5 423.5,215.5 447.5,200.5 458.5,185.5 475.5,170.5 483.5,155.5 489.5,140.5 493.5,125.5 498.5,110.5 500.5,95.5 504.5,80.5"/>
<polyline points="143.5,365.5 210.5,350.5 257.5,335.5 286.5,320.5 329.5,305.5 344.5,290.5 360.5,275.5 377.5,260.5 391.5,245.5 403.5,230.5 434.5,215.5 446.5,200.5 451.5,185.5 461.5,170.5 481.5,155.5 486.5,140.5 501.5,125.5 511.5,110.5 519.5,95.5 522.5,80.5"/>
<polyline points="143.5,365.5 197.5,350.5 248.5,335.5 286.5,320.5 329.5,305.5 344.5,290.5 361.5,275.5 378.5,260.5 392.5,245.5 404.5,230.5 417.5,215.5 430.5,200.5 442.5,185.5 453.5,170.5 461.5,155.5 468.5,140.5 482.5,125.5 484.5,110.5 499.5,95.5 504.5,80.5"/>
<polyline points="145.5,365.5 202.5,350.5 253.5,335.5 292.5,320.5 353.5,305.5 376.5,290.5 393.5,275.5 406.5,260.5 410.5,245.5 415.5,230.5 429.5,215.5 447.5,200.5 466.5,185.5 470.5,170.5 472.5,155.5 476.5,140.5 489.5,125.5 494.5,110.5 496.5,95.5 497.5,80.5"/>
<polyline points="145.5,365.5 198.5,350.5 249.5,335.5 287.5,320.5 354.5,305.5 377.5,290.5 397.5,275.5 411.5,260.5 430.5,245.5 445.5,230.5 456.5,215.5 469.5,200.5 484.5,185.5 493.5,170.5 498.5,155.5 503.5,140.5 508.5,125.5 516.5,110.5 524.5,95.5 530.5,80.5"/>
<polyline points="145.5,365.5 212.5,350.5 270.5,335.5 298.5,320.5 355.5,305.5 378.5,290.5 388.5,275.5 412.5,260.5 435.5,245.5 448.5,230.5 452.5,215.5 474.5,200.5 484.5,185.5 486.5,170.5 488.5,155.5 492.5,140.5 498.5,125.5 501.5,110.5 507.5,95.5 514.5,80.5"/>
<polyline points="144.5,365.5 199.5,350.5 253.5,335.5 289.5,320.5 332.5,305.5 347.5,290.5 365.5,275.5 388.5,260.5 397.5,245.5 415.5,230.5 421.5,215.5 433.5,200.5 446.5,185.5 458.5,170.5 471.5,155.5 486.5,140.5 489.5,125.5 497.5,110.5 512.5,95.5 523.5,80.5"/>
<polyline points="145.5,365.5 214.5,350.5 272.5,335.5 294.5,320.5 332.5,305.5 348.5,290.5 366.5,275.5 384.5,260.5 399.5,245.5 409.5,230.5 421.5,215.5 447.5,200.5 451.5,185.5 474.5,170.5 488.5,155.5 492.5,140.5 499.5,125.5 511.5,110.5 521.5,95.5 529.5,80.5"/>
<polyline points="146.5,365.5 215.5,350.5 273.5,335.5 312.5,320.5 356.5,305.5 384.5,290.5 395.5,275.5 422.5,260.5 429.5,245.5 431.5,230.5 453.5,215.5 456.5,200.5 468.5,185.5 476.5,170.5 486.5,155.5 488.5,140.5 497.5,125.5 502.5,110.5 506.5,95.5 518.5,80.5"/>
<polyline points="146.5,365.5 216.5,350.5 274.5,335.5 296.5,320.5 333.5,305.5 349.5,290.5 367.5,275.5 390.5,260.5 412.5,245.5 426.5,230.5 428.5,215.5 446.5,200.5 460.5,185.5 468.5,170.5 477.5,155.5 487.5,140.5 502.5,125.5 514.5,110.5 518.5,95.5 527.5,80.5"/>
<polyline points="146.5,365.5 201.5,350.5 253.5,335.5 291.5,320.5 334.5,305.5 350.5,290.5 386.5,275.5 393.5,260.5 400.5,245.5 419.5,230.5 447.5,215.5 463.5,200.5 475.5,185.5 479.5,170.5 489.5,155.5 500.5,140.5 508.5,125.5 515.5,110.5 519.5,95.5 524.5,80.5"/>
<polyline points="147.5,365.5 218.5,350.5 254.5,335.5 291.5,320.5 335.5,305.5 355.5,290.5 373.5,275.5 388.5,260.5 402.5,245.5 415.5,230.5 431.5,215.5 441.5,200.5 463.5,185.5 471.5,170.5 481.5,155.5 489.5,140.5 493.5,125.5 500.5,110.5 506.5,95.5 525.5,80.5"/>
<polyline points="147.5,365.5 217.5,350.5 279.5,335.5 318.5,320.5 349.5,305.5 381.5,290.5 392.5,275.5 409.5,260.5 427.5,245.5 465.5,230.5 468.5,215.5 492.5,200.5 499.5,185.5 500.5,170.5 502.5,155.5 504.5,140.5 507.5,125.5 510.5,110.5 513.5,95.5 528.5,80.5"/>
<polyline points="147.5,365.5 220.5,350.5 255.5,335.5 292.5,320.5 335.5,305.5 353.5,290.5 373.5,275.5 391.5,260.5 405.5,245.5 432.5,230.5 437.5,215.5 450.5,200.5 466.5,185.5 481.5,170.5 486.5,155.5 507.5,140.5 520.5,125.5 529.5,110.5 534.5,95.5 547.5,80.5"/>
<polyline points="148.5,365.5 221.5,350.5 255.5,335.5 293.5,320.5 368.5,305.5 375.5,290.5 388.5,275.5 392.5,260.5 422.5,245.5 442.5,230.5 454.5,215.5 464.5,200.5 480.5,185.5 493.5,170.5 497.5,155.5 499.5,140.5 506.5,125.5 507.5,110.5 508.5,95.5 518.5,80.5"/>
<polyline points="148.5,365.5 202.5,350.5 256.5,335.5 293.5,320.5 336.5,305.5 362.5,290.5 390.5,275.5 417.5,260.5 427.5,245.5 450.5,230.5 465.5,215.5 472.5,200.5 496.5,185.5 497.5,170.5 509.5,155.5 517.5,140.5 522.5,125.5 534.5,110.5 541.5,95.5 546.5,80.5"/>
<polyline points="148.5,365.5 223.5,350.5 285.5,335.5 325.5,320.5 377.5,305.5 396.5,290.5 400.5,275.5 411.5,260.5 424.5,245.5 444.5,230.5 454.5,215.5 476.5,200.5 483.5,185.5 491.5,170.5 492.5,155.5 493.5,140.5 503.5,125.5 521.5,110.5 533.5,95.5 537.5,80.5"/>
<polyline points="151.5,365.5 225.5,350.5 287.5,335.5 328.5,320.5 381.5,305.5 408.5,290.5 429.5,275.5 441.5,260.5 454.5,245.5 463.5,230.5 473.5,215.5 484.5,200.5 488.5,185.5 508.5,170.5 525.5,155.5 530.5,140.5 531.5,125.5 533.5,110.5 537.5,95.5 541.5,80.5"/>
<polyline points="151.5,365.5 203.5,350.5 257.5,335.5 294.5,320.5 337.5,305.5 401.5,290.5 408.5,275.5 444.5,260.5 452.5,245.5 473.5,230.5 478.5,215.5 485.5,200.5 499.5,185.5 523.5,170.5 528.5,155.5 532.5,140.5 538.5,125.5 543.5,110.5 547.5,95.5 558.5,80.5"/>
<polyline points="153.5,365.5 227.5,350.5 290.5,335.5 331.5,320.5 371.5,305.5 399.5,290.5 416.5,275.5 422.5,260.5 431.5,245.5 437.5,230.5 467.5,215.5 482.5,200.5 492.5,185.5 512.5,170.5 521.5,155.5 534.5,140.5 536.5,125.5 537.5,110.5 547.5,95.5 548.5,80.5"/>
<polyline points="149.5,365.5 204.5,350.5 258.5,335.5 295.5,320.5 361.5,305.5 371.5,290.5 384.5,275.5 402.5,260.5 420.5,245.5 435.5,230.5 477.5,215.5 481.5,200.5 503.5,185.5 513.5,170.5 520.5,155.5 523.5,140.5 532.5,125.5 544.5,110.5 555.5,95.5 567.5,80.5"/>
<polyline points="152.5,365.5 229.5,350.5 294.5,335.5 335.5,320.5 391.5,305.5 417.5,290.5 437.5,275.5 452.5,260.5 465.5,245.5 472.5,230.5 485.5,215.5 507.5,200.5 514.5,185.5 520.5,170.5 526.5,155.5 534.5,140.5 540.5,125.5 545.5,110.5 561.5,95.5 565.5,80.5"/>
<polyline points="152.5,365.5 229.5,350.5 294.5,335.5 335.5,320.5 391.5,305.5 418.5,290.5 439.5,275.5 457.5,260.5 474.5,245.5 491.5,230.5 501.5,215.5 510.5,200.5 528.5,185.5 534.5,170.5 539.5,155.5 542.5,140.5 546.5,125.5 554.5,110.5 563.5,95.5 565.5,80.5"/>
<polyline points="154.5,365.5 229.5,350.5 294.5,335.5 335.5,320.5 390.5,305.5 391.5,290.5 424.5,275.5 460.5,260.5 478.5,245.5 490.5,230.5 497.5,215.5 513.5,200.5 524.5,185.5 526.5,170.5 527.5,155.5 530.5,140.5 536.5,125.5 541.5,110.5 550.5,95.5 556.5,80.5"/>
<polyline points="157.5,365.5 229.5,350.5 294.5,335.5 317.5,320.5 347.5,305.5 402.5,290.5 433.5,275.5 446.5,260.5 457.5,245.5 482.5,230.5 485.5,215.5 498.5,200.5 530.5,185.5 546.5,170.5 551.5,155.5 553.5,140.5 563.5,125.5 571.5,110.5 573.5,95.5 578.5,80.5"/>
<polyline points="155.5,365.5 229.5,350.5 266.5,335.5 300.5,320.5 352.5,305.5 380.5,290.5 401.5,275.5 419.5,260.5 437.5,245.5 454.5,230.5 470.5,215.5 483.5,200.5 495.5,185.5 505.5,170.5 515.5,155.5 524.5,140.5 532.5,125.5 540.5,110.5 555.5,95.5 561.5,80.5"/>
<polyline points="159.5,365.5 206.5,350.5 263.5,335.5 303.5,320.5 356.5,305.5 385.5,290.5 416.5,275.5 455.5,260.5 479.5,245.5 494.5,230.5 501.5,215.5 513.5,200.5 518.5,185.5 525.5,170.5 530.5,155.5 533.5,140.5 560.5,125.5 569.5,110.5 570.5,95.5 571.5,80.5"/>
<polyline points="156.5,365.5 216.5,350.5 265.5,335.5 305.5,320.5 359.5,305.5 389.5,290.5 409.5,275.5 427.5,260.5 446.5,245.5 463.5,230.5 480.5,215.5 494.5,200.5 508.5,185.5 519.5,170.5 529.5,155.5 542.5,140.5 559.5,125.5 566.5,110.5 571.5,95.5 576.5,80.5"/>
<polyline points="150.5,365.5 215.5,350.5 275.5,335.5 318.5,320.5 370.5,305.5 402.5,290.5 430.5,275.5 447.5,260.5 468.5,245.5 488.5,230.5 506.5,215.5 522.5,200.5 538.5,185.5 550.5,170.5 560.5,155.5 568.5,140.5 576.5,125.5 586.5,110.5 594.5,95.5 600.5,80.5"/>
<polyline points="155.5,365.5 222.5,350.5 285.5,335.5 328.5,320.5 380.5,305.5 412.5,290.5 442.5,275.5 458.5,260.5 478.5,245.5 496.5,230.5 512.5,215.5 528.5,200.5 543.5,185.5 554.5,170.5 565.5,155.5 574.5,140.5 581.5,125.5 590.5,110.5 597.5,95.5 603.5,80.5"/>
<polyline points="158.5,365.5 228.5,350.5 293.5,335.5 335.5,320.5 390.5,305.5 422.5,290.5 452.5,275.5 468.5,260.5 488.5,245.5 505.5,230.5 520.5,215.5 536.5,200.5 550.5,185.5 560.5,170.5 570.5,155.5 578.5,140.5 585.5,125.5 593.5,110.5 600.5,95.5 605.5,80.5"/>
</g><g stroke="#ff8000" stroke-width="1">
<polyline points="165.5,365.5 282.5,350.5 390.5,335.5 450.5,320.5 492.5,305.5 532.5,290.5 567.5,275.5 587.5,260.5 596.5,245.5 601.5,230.5 605.5,215.5 605.5,200.5 605.5,185.5 605.5,170.5 605.5,155.5 605.5,140.5 605.5,125.5 605.5,110.5 605.5,95.5 605.5,80.5"/>
<polyline points="168.5,365.5 290.5,350.5 400.5,335.5 458.5,320.5 505.5,305.5 552.5,290.5 575.5,275.5 592.5,260.5 599.5,245.5 603.5,230.5 605.5,215.5 605.5,200.5 605.5,185.5 605.5,170.5 605.5,155.5 605.5,140.5 605.5,125.5 605.5,110.5 605.5,95.5 605.5,80.5"/>
<polyline points="172.5,365.5 298.5,350.5 410.5,335.5 477.5,320.5 525.5,305.5 561.5,290.5 590.5,275.5 595.5,260.5 603.5,245.5 605.5,230.5 605.5,215.5 605.5,200.5 605.5,185.5 605.5,170.5 605.5,155.5 605.5,140.5 605.5,125.5 605.5,110.5 605.5,95.5 605.5,80.5"/>
<polyline points="176.5,365.5 306.5,350.5 420.5,335.5 490.5,320.5 533.5,305.5 576.5,290.5 592.5,275.5 598.5,260.5 605.5,245.5 605.5,230.5 605.5,215.5 605.5,200.5 605.5,185.5 605.5,170.5 605.5,155.5 605.5,140.5 605.5,125.5 605.5,110.5 605.5,95.5 605.5,80.5"/>
<polyline points="162.5,365.5 275.5,350.5 380.5,335.5 439.5,320.5 479.5,305.5 522.5,290.5 545.5,275.5 551.5,260.5 563.5,245.5 567.5,230.5 575.5,215.5 578.5,200.5 584.5,185.5 585.5,170.5 587.5,155.5 590.5,140.5 592.5,125.5 595.5,110.5 598.5,95.5 600.5,80.5"/>
</g><g stroke="#000" stroke-width="1.7">
<polyline points="116.5,365.5 157.5,350.5 199.5,335.5 240.5,320.5 269.5,305.5 285.5,290.5 311.5,275.5 329.5,260.5 358.5,245.5 367.5,230.5 391.5,215.5 410.5,200.5 419.5,185.5 422.5,170.5 432.5,155.5 437.5,140.5 452.5,125.5 459.5,110.5 467.5,95.5 472.5,80.5"/>
<polyline points="116.5,365.5 175.5,350.5 224.5,335.5 254.5,320.5 284.5,305.5 309.5,290.5 335.5,275.5 339.5,260.5 358.5,245.5 379.5,230.5 405.5,215.5 413.5,200.5 422.5,185.5 430.5,170.5 437.5,155.5 453.5,140.5 462.5,125.5 469.5,110.5 473.5,95.5 485.5,80.5"/>
<polyline points="126.5,365.5 181.5,350.5 237.5,335.5 273.5,320.5 304.5,305.5 322.5,290.5 331.5,275.5 349.5,260.5 358.5,245.5 385.5,230.5 410.5,215.5 427.5,200.5 441.5,185.5 460.5,170.5 465.5,155.5 469.5,140.5 471.5,125.5 482.5,110.5 484.5,95.5 490.5,80.5"/>
<polyline points="126.5,365.5 183.5,350.5 240.5,335.5 285.5,320.5 332.5,305.5 353.5,290.5 370.5,275.5 384.5,260.5 400.5,245.5 416.5,230.5 426.5,215.5 438.5,200.5 452.5,185.5 462.5,170.5 470.5,155.5 476.5,140.5 487.5,125.5 489.5,110.5 490.5,95.5 497.5,80.5"/>
</g><g stroke="#0000ff" stroke-width="1.7">
<polyline points="131.5,365.5 192.5,350.5 243.5,335.5 294.5,320.5 339.5,305.5 372.5,290.5 399.5,275.5 422.5,260.5 443.5,245.5 461.5,230.5 476.5,215.5 487.5,200.5 495.5,185.5 502.5,170.5 512.5,155.5 522.5,140.5 530.5,125.5 536.5,110.5 540.5,95.5 545.5,80.5"/>
</g>
</g>
<path d="M65.5 65.5H615.5V375.5H65.5ZM65 336.5h5M615 336.5h-5M65 307.5h5M615 307.5h-5M65 278.5h5M615 278.5h-5M65 249.5h5M615 249.5h-5M65 220.5h10M615 220.5h-10M65 191.5h5M615 191.5h-5M65 162.5h5M615 162.5h-5M65 133.5h5M615 133.5h-5M65 104.5h5M615 104.5h-5M65 75.5h10M615 75.5h-10M128.5 375v-5M128.5 65v5M181.5 375v-10M181.5 65v10M234.5 375v-5M234.5 65v5M287.5 375v-10M287.5 65v10M340.5 375v-5M340.5 65v5M393.5 375v-10M393.5 65v10M446.5 375v-5M446.5 65v5M499.5 375v-10M499.5 65v10M552.5 375v-5M552.5 65v5M605.5 375v-10M605.5 65v10" fill="none" stroke="#000" stroke-width="1" shape-rendering="crispEdges"/>
</svg>
<div class="t" style="left:309px;top:19px">T1099-D1</div>
<div class="t" style="left:219px;top:408px">Percent of Residues (CA)</div>
<div class="t" style="left:60px;top:384px">0</div>
<div class="t" style="left:171px;top:384px">20</div>
<div class="t" style="left:277px;top:384px">40</div>
<div class="t" style="left:383px;top:384px">60</div>
<div class="t" style="left:489px;top:384px">80</div>
<div class="t" style="left:595px;top:384px">100</div>
<div class="t" style="left:44px;top:381px;transform:rotate(-90deg);transform-origin:0 0">0</div>
<div class="t" style="left:44px;top:226px;transform:rotate(-90deg);transform-origin:0 0">5</div>
<div class="t" style="left:44px;top:76px;transform:rotate(-90deg);transform-origin:0 0">10</div>
<div class="t" style="left:20px;top:321px;transform:rotate(-90deg);transform-origin:0 0">Distance Cutoff, A</div>
</body></html>
